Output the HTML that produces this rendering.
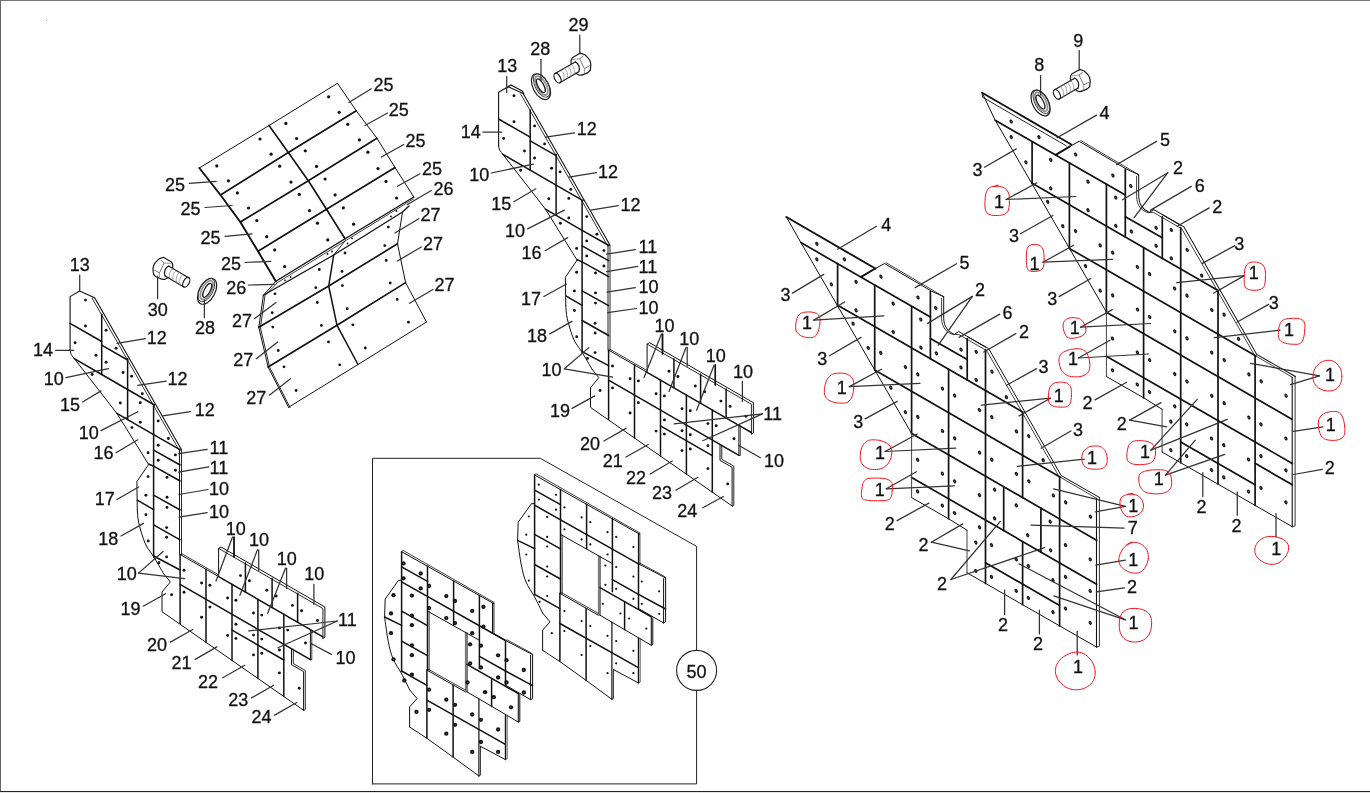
<!DOCTYPE html>
<html><head><meta charset="utf-8"><title>Parts diagram</title>
<style>
html,body{margin:0;padding:0;background:#fff;}
body{width:1370px;height:793px;overflow:hidden;position:relative;font-family:"Liberation Sans",sans-serif;}
#frame{position:absolute;left:0;top:0;width:1370px;height:793px;box-sizing:border-box;border-top:1px solid #777;border-left:1px solid #666;}
#bl{position:absolute;left:0;top:791px;width:1370px;height:1px;background:#222;}
#bg{position:absolute;left:0;top:792px;width:1370px;height:1px;background:#e6e6e6;}
svg{position:absolute;left:0;top:0;}
svg text{font-family:"Liberation Sans",sans-serif;filter:grayscale(1);}
</style></head><body>
<div id="frame"></div><div id="bl"></div><div id="bg"></div>
<svg width="1370" height="793" viewBox="0 0 1370 793" stroke-linecap="round">
<!-- part_panel -->
<polyline points="199.3,168 269,125.5 337.5,83.3" fill="none" stroke="#111" stroke-width="1.0" stroke-linejoin="round"/>
<polyline points="220.5,195 288.3,152.5 356.3,110.8" fill="none" stroke="#111" stroke-width="1.6" stroke-linejoin="round"/>
<polyline points="240.3,222 308.3,180.8 377,138.3" fill="none" stroke="#111" stroke-width="1.6" stroke-linejoin="round"/>
<polyline points="258,251.3 326.5,209.3 395,167.5" fill="none" stroke="#111" stroke-width="1.6" stroke-linejoin="round"/>
<polyline points="275.8,281.3 345,238.8 413.8,197" fill="none" stroke="#111" stroke-width="1.3" stroke-linejoin="round"/>
<line x1="276.7" y1="283" x2="413.3" y2="199" stroke="#111" stroke-width="0.8"/>
<polyline points="199.3,168 220.5,195 240.3,222 258,251.3 275.8,281.3" fill="none" stroke="#111" stroke-width="1.9" stroke-linejoin="round"/>
<polyline points="269,125.5 288.3,152.5 308.3,180.8 326.5,209.3 345,238.8" fill="none" stroke="#111" stroke-width="1.6" stroke-linejoin="round"/>
<polyline points="337.5,83.3 356.3,110.8 377,138.3 395,167.5 413.8,197" fill="none" stroke="#111" stroke-width="1.0" stroke-linejoin="round"/>
<circle cx="216.8" cy="165.9" r="1.6" fill="#111"/>
<circle cx="228.4" cy="180.8" r="1.6" fill="#111"/>
<circle cx="260" cy="139" r="1.6" fill="#111"/>
<circle cx="271.1" cy="154.2" r="1.6" fill="#111"/>
<circle cx="285.9" cy="123.4" r="1.6" fill="#111"/>
<circle cx="296.6" cy="138.5" r="1.6" fill="#111"/>
<circle cx="328.6" cy="96.8" r="1.6" fill="#111"/>
<circle cx="339.2" cy="112.3" r="1.6" fill="#111"/>
<circle cx="237.4" cy="192.9" r="1.6" fill="#111"/>
<circle cx="248.5" cy="208" r="1.6" fill="#111"/>
<circle cx="279.7" cy="166.2" r="1.6" fill="#111"/>
<circle cx="291" cy="182.1" r="1.6" fill="#111"/>
<circle cx="305.3" cy="150.8" r="1.6" fill="#111"/>
<circle cx="316.5" cy="166.4" r="1.6" fill="#111"/>
<circle cx="347.8" cy="124.3" r="1.6" fill="#111"/>
<circle cx="359.4" cy="139.9" r="1.6" fill="#111"/>
<circle cx="256.8" cy="220.6" r="1.6" fill="#111"/>
<circle cx="266.7" cy="236.7" r="1.6" fill="#111"/>
<circle cx="299.3" cy="194.4" r="1.6" fill="#111"/>
<circle cx="309.5" cy="210.6" r="1.6" fill="#111"/>
<circle cx="325.1" cy="179" r="1.6" fill="#111"/>
<circle cx="335.1" cy="194.9" r="1.6" fill="#111"/>
<circle cx="367.9" cy="152.2" r="1.6" fill="#111"/>
<circle cx="378" cy="168.6" r="1.6" fill="#111"/>
<circle cx="274.7" cy="249.9" r="1.6" fill="#111"/>
<circle cx="284.6" cy="266.5" r="1.6" fill="#111"/>
<circle cx="317.5" cy="223.2" r="1.6" fill="#111"/>
<circle cx="327.8" cy="239.9" r="1.6" fill="#111"/>
<circle cx="343.3" cy="207.8" r="1.6" fill="#111"/>
<circle cx="353.6" cy="224.2" r="1.6" fill="#111"/>
<circle cx="386" cy="181.4" r="1.6" fill="#111"/>
<circle cx="396.6" cy="198" r="1.6" fill="#111"/>
<polyline points="263.4,295.2 333.7,255 402.5,212 409,206" fill="none" stroke="#111" stroke-width="1.3" stroke-linejoin="round"/>
<polyline points="258.8,327.3 328.7,286 397.5,243.8" fill="none" stroke="#111" stroke-width="1.6" stroke-linejoin="round"/>
<polyline points="268.1,367 337,325.3 405.6,282.6" fill="none" stroke="#111" stroke-width="1.6" stroke-linejoin="round"/>
<polyline points="288.5,407.3 358,364.5 426.5,322" fill="none" stroke="#111" stroke-width="1.0" stroke-linejoin="round"/>
<polyline points="263.4,295.2 258.8,327.3 268.1,367 288.5,407.3" fill="none" stroke="#111" stroke-width="1.0" stroke-linejoin="round"/>
<polyline points="265,295.6 260.4,327.7 269.7,367.4 290.1,407.7" fill="none" stroke="#111" stroke-width="0.9" stroke-linejoin="round"/>
<polyline points="333.7,255 328.7,286 337,325.3 358,364.5" fill="none" stroke="#111" stroke-width="1.5" stroke-linejoin="round"/>
<polyline points="402.5,212 397.5,243.8 405.6,282.6 426.5,322" fill="none" stroke="#111" stroke-width="1.0" stroke-linejoin="round"/>
<line x1="263.4" y1="295.2" x2="275.8" y2="281.3" stroke="#111" stroke-width="1.0"/>
<line x1="265.5" y1="295" x2="277" y2="283.2" stroke="#111" stroke-width="0.8"/>
<line x1="333.7" y1="255" x2="345" y2="241" stroke="#111" stroke-width="0.9"/>
<circle cx="275" cy="293.8" r="1.4" fill="#111"/>
<circle cx="272.2" cy="312.7" r="1.4" fill="#111"/>
<circle cx="319.3" cy="269.5" r="1.4" fill="#111"/>
<circle cx="315.8" cy="287.7" r="1.4" fill="#111"/>
<circle cx="345" cy="253" r="1.4" fill="#111"/>
<circle cx="342" cy="271.4" r="1.4" fill="#111"/>
<circle cx="388.3" cy="227.1" r="1.4" fill="#111"/>
<circle cx="384.8" cy="245.6" r="1.4" fill="#111"/>
<circle cx="272.8" cy="327.1" r="1.4" fill="#111"/>
<circle cx="278.2" cy="350.5" r="1.4" fill="#111"/>
<circle cx="317.3" cy="302.5" r="1.4" fill="#111"/>
<circle cx="321.4" cy="325.4" r="1.4" fill="#111"/>
<circle cx="342.4" cy="285.6" r="1.4" fill="#111"/>
<circle cx="347.2" cy="308.7" r="1.4" fill="#111"/>
<circle cx="386.2" cy="260.4" r="1.4" fill="#111"/>
<circle cx="390.2" cy="283" r="1.4" fill="#111"/>
<circle cx="284" cy="366.8" r="1.4" fill="#111"/>
<circle cx="296.1" cy="390.5" r="1.4" fill="#111"/>
<circle cx="328.5" cy="341.9" r="1.4" fill="#111"/>
<circle cx="339.7" cy="364.8" r="1.4" fill="#111"/>
<circle cx="352.9" cy="324.8" r="1.4" fill="#111"/>
<circle cx="365.3" cy="348" r="1.4" fill="#111"/>
<circle cx="397.2" cy="299.4" r="1.4" fill="#111"/>
<circle cx="408.4" cy="322.2" r="1.4" fill="#111"/>
<circle cx="285" cy="280.3" r="0.9" fill="#111"/>
<circle cx="290.5" cy="277" r="0.9" fill="#111"/>
<circle cx="327.5" cy="254" r="0.9" fill="#111"/>
<circle cx="332" cy="251.5" r="0.9" fill="#111"/>
<circle cx="352" cy="238.3" r="0.9" fill="#111"/>
<circle cx="347.5" cy="243.5" r="0.9" fill="#111"/>
<circle cx="396.5" cy="211" r="0.9" fill="#111"/>
<circle cx="391" cy="216.5" r="0.9" fill="#111"/>
<!-- part_left -->
<polyline points="70.1,350.5 70.1,296.6 79.6,291 94.6,297.7 181.4,449.4" fill="none" stroke="#111" stroke-width="1.1" stroke-linejoin="round"/>
<line x1="92.1" y1="298.2" x2="179.4" y2="450.6" stroke="#111" stroke-width="0.85"/>
<path d="M70.1 350C70.3 350.8 70.5 353.1 71.2 354.5C71.9 355.9 73.8 357.9 74.3 358.6" fill="none" stroke="#111" stroke-width="1.0"/>
<polyline points="74.3,358.6 116.9,413.4 148.6,464.4 136.9,481.6 137.3,510" fill="none" stroke="#111" stroke-width="1.0" stroke-linejoin="round"/>
<path d="M137.3 510C137.6 512.2 137.5 517.4 138.8 523C140.1 528.6 142.8 538 145.2 543.5C147.6 549 150.1 551 153.2 556C156.3 561 161.9 570.7 163.6 573.6" fill="none" stroke="#111" stroke-width="1.0"/>
<polyline points="163.6,573.6 170.3,582 162,592 162,611.7 303.8,710.4" fill="none" stroke="#111" stroke-width="1.0" stroke-linejoin="round"/>
<line x1="70.1" y1="323.3" x2="101.7" y2="341.5" stroke="#111" stroke-width="1.5"/>
<line x1="101.7" y1="345.2" x2="127.6" y2="360" stroke="#111" stroke-width="1.5"/>
<polyline points="74.3,358.6 101.7,374.5 127.6,389.5 154.5,405" fill="none" stroke="#111" stroke-width="1.5" stroke-linejoin="round"/>
<polyline points="116.9,413.4 153.6,434.6 180.4,449.8" fill="none" stroke="#111" stroke-width="1.5" stroke-linejoin="round"/>
<line x1="153.6" y1="450.2" x2="180.1" y2="465" stroke="#111" stroke-width="1.5"/>
<polyline points="148.6,464 153.6,466.2 180.1,481" fill="none" stroke="#111" stroke-width="1.5" stroke-linejoin="round"/>
<line x1="153.6" y1="495.2" x2="180.1" y2="510" stroke="#111" stroke-width="1.5"/>
<line x1="137.3" y1="500.2" x2="153.6" y2="509.6" stroke="#111" stroke-width="1.5"/>
<line x1="153.6" y1="524.8" x2="180.1" y2="539.8" stroke="#111" stroke-width="1.5"/>
<line x1="153.6" y1="556" x2="180.1" y2="570" stroke="#111" stroke-width="1.5"/>
<line x1="101.7" y1="314.3" x2="101.7" y2="374.5" stroke="#111" stroke-width="1.5"/>
<line x1="127.6" y1="358.6" x2="127.6" y2="419.6" stroke="#111" stroke-width="1.5"/>
<line x1="153.6" y1="404.7" x2="153.6" y2="556.9" stroke="#111" stroke-width="1.5"/>
<line x1="179.5" y1="449.4" x2="179.5" y2="554.4" stroke="#111" stroke-width="0.95"/>
<line x1="180.1" y1="554.4" x2="180.1" y2="623.6" stroke="#111" stroke-width="1.5"/>
<line x1="181.5" y1="450" x2="181.5" y2="555.2" stroke="#111" stroke-width="0.9"/>
<line x1="180.1" y1="554.4" x2="218.6" y2="576.6" stroke="#111" stroke-width="1.0"/>
<line x1="181.6" y1="553.6" x2="218.6" y2="574.9" stroke="#111" stroke-width="0.8"/>
<polyline points="218.6,576.6 310.4,629.6 322.9,636.8" fill="none" stroke="#111" stroke-width="1.5" stroke-linejoin="round"/>
<polyline points="218.6,576.6 218.6,548.4 221,547 324.9,607 324.9,637.3 322.9,638.3" fill="none" stroke="#111" stroke-width="1.0" stroke-linejoin="round"/>
<polyline points="218.6,548.4 322.9,608.5 322.9,638.3" fill="none" stroke="#111" stroke-width="0.9" stroke-linejoin="round"/>
<line x1="245.4" y1="563.1" x2="245.4" y2="592.1" stroke="#111" stroke-width="1.5"/>
<line x1="272.1" y1="578.5" x2="272.1" y2="607.5" stroke="#111" stroke-width="1.5"/>
<line x1="297.6" y1="593.2" x2="297.6" y2="622.2" stroke="#111" stroke-width="1.5"/>
<line x1="206" y1="569.3" x2="206" y2="642.3" stroke="#111" stroke-width="1.5"/>
<line x1="232" y1="584.3" x2="232" y2="660.4" stroke="#111" stroke-width="1.5"/>
<line x1="257.9" y1="599.3" x2="257.9" y2="678.4" stroke="#111" stroke-width="1.5"/>
<line x1="283.8" y1="614.2" x2="283.8" y2="696.5" stroke="#111" stroke-width="1.5"/>
<polyline points="310.4,629.6 310.4,659.6 309,658.8" fill="none" stroke="#111" stroke-width="1.0" stroke-linejoin="round"/>
<polyline points="311.8,630.4 311.8,659.8 310.4,659.6" fill="none" stroke="#111" stroke-width="0.8" stroke-linejoin="round"/>
<line x1="180.1" y1="584.4" x2="310.4" y2="659.6" stroke="#111" stroke-width="1.5"/>
<line x1="232" y1="630.1" x2="283.8" y2="660" stroke="#111" stroke-width="1.5"/>
<polyline points="291.5,648.7 291.5,664.7 303.6,671.6 303.6,710.4" fill="none" stroke="#111" stroke-width="1.0" stroke-linejoin="round"/>
<polyline points="293.3,649.7 293.3,663.6 305.3,670.4 305.3,709.4 303.8,710.4" fill="none" stroke="#111" stroke-width="0.9" stroke-linejoin="round"/>
<circle cx="85.5" cy="300.1" r="1.45" fill="#111"/>
<circle cx="85.5" cy="326" r="1.45" fill="#111"/>
<circle cx="75.1" cy="342.7" r="1.45" fill="#111"/>
<circle cx="96" cy="355.3" r="1.45" fill="#111"/>
<circle cx="106.1" cy="330.2" r="1.45" fill="#111"/>
<circle cx="116.1" cy="348.2" r="1.45" fill="#111"/>
<circle cx="106.1" cy="362.3" r="1.45" fill="#111"/>
<circle cx="123.1" cy="372.5" r="1.45" fill="#111"/>
<circle cx="131.6" cy="376.2" r="1.45" fill="#111"/>
<circle cx="142.3" cy="393.7" r="1.45" fill="#111"/>
<circle cx="92.2" cy="374.5" r="1.45" fill="#111"/>
<circle cx="120.3" cy="403" r="1.45" fill="#111"/>
<circle cx="140.3" cy="402.7" r="1.45" fill="#111"/>
<circle cx="140.3" cy="422.3" r="1.45" fill="#111"/>
<circle cx="131.9" cy="427.6" r="1.45" fill="#111"/>
<circle cx="158.2" cy="420.9" r="1.45" fill="#111"/>
<circle cx="168.4" cy="438.5" r="1.45" fill="#111"/>
<circle cx="158.2" cy="445.2" r="1.45" fill="#111"/>
<circle cx="175.4" cy="454.9" r="1.45" fill="#111"/>
<circle cx="158.2" cy="460.2" r="1.45" fill="#111"/>
<circle cx="175.4" cy="470.3" r="1.45" fill="#111"/>
<circle cx="148.1" cy="452.7" r="1.45" fill="#111"/>
<circle cx="167" cy="477.3" r="1.45" fill="#111"/>
<circle cx="148.1" cy="476.6" r="1.45" fill="#111"/>
<circle cx="145.9" cy="495.2" r="1.45" fill="#111"/>
<circle cx="167" cy="497.2" r="1.45" fill="#111"/>
<circle cx="167" cy="507.4" r="1.45" fill="#111"/>
<circle cx="145.9" cy="514.8" r="1.45" fill="#111"/>
<circle cx="166.6" cy="527.6" r="1.45" fill="#111"/>
<circle cx="166.6" cy="537.3" r="1.45" fill="#111"/>
<circle cx="148.2" cy="541" r="1.45" fill="#111"/>
<circle cx="166.6" cy="556.9" r="1.45" fill="#111"/>
<circle cx="158.9" cy="562.7" r="1.45" fill="#111"/>
<circle cx="171.6" cy="594.8" r="1.45" fill="#111"/>
<circle cx="184" cy="570.3" r="1.45" fill="#111"/>
<circle cx="201.6" cy="583" r="1.45" fill="#111"/>
<circle cx="184" cy="592.2" r="1.45" fill="#111"/>
<circle cx="201.6" cy="617.3" r="1.45" fill="#111"/>
<circle cx="209.9" cy="585.2" r="1.45" fill="#111"/>
<circle cx="227.6" cy="598" r="1.45" fill="#111"/>
<circle cx="209.9" cy="607.1" r="1.45" fill="#111"/>
<circle cx="227.6" cy="635.4" r="1.45" fill="#111"/>
<circle cx="235.9" cy="600.2" r="1.45" fill="#111"/>
<circle cx="253.5" cy="613" r="1.45" fill="#111"/>
<circle cx="235.9" cy="624.2" r="1.45" fill="#111"/>
<circle cx="253.5" cy="635.1" r="1.45" fill="#111"/>
<circle cx="235.9" cy="638.4" r="1.45" fill="#111"/>
<circle cx="253.5" cy="654.9" r="1.45" fill="#111"/>
<circle cx="261.8" cy="615.1" r="1.45" fill="#111"/>
<circle cx="279.4" cy="627.9" r="1.45" fill="#111"/>
<circle cx="261.8" cy="639.1" r="1.45" fill="#111"/>
<circle cx="279.4" cy="650" r="1.45" fill="#111"/>
<circle cx="261.8" cy="653.3" r="1.45" fill="#111"/>
<circle cx="279.4" cy="672.9" r="1.45" fill="#111"/>
<circle cx="287.7" cy="630.1" r="1.45" fill="#111"/>
<circle cx="305.5" cy="643" r="1.45" fill="#111"/>
<circle cx="299.2" cy="688.2" r="1.45" fill="#111"/>
<circle cx="240.5" cy="575.6" r="1.45" fill="#111"/>
<circle cx="249.4" cy="580.8" r="1.45" fill="#111"/>
<circle cx="266.8" cy="590.3" r="1.45" fill="#111"/>
<circle cx="276.2" cy="596" r="1.45" fill="#111"/>
<circle cx="292.4" cy="605.4" r="1.45" fill="#111"/>
<circle cx="301.6" cy="610.7" r="1.45" fill="#111"/>
<circle cx="317.5" cy="620.5" r="1.45" fill="#111"/>
<polyline points="498.6,146.2 498.6,92.3 508.1,86.7 523.1,93.4 609.9,245.1" fill="none" stroke="#111" stroke-width="1.1" stroke-linejoin="round"/>
<line x1="520.6" y1="93.9" x2="607.9" y2="246.3" stroke="#111" stroke-width="0.85"/>
<path d="M498.6 145.7C498.8 146.4 499 148.8 499.7 150.2C500.4 151.6 502.3 153.6 502.8 154.3" fill="none" stroke="#111" stroke-width="1.0"/>
<polyline points="502.8,154.3 545.4,209.1 577.1,260.1 565.4,277.3 565.8,305.7" fill="none" stroke="#111" stroke-width="1.0" stroke-linejoin="round"/>
<path d="M565.8 305.7C566 307.9 566 313.1 567.3 318.7C568.6 324.3 571.3 333.7 573.7 339.2C576.1 344.7 578.6 346.7 581.7 351.7C584.8 356.7 590.4 366.4 592.1 369.3" fill="none" stroke="#111" stroke-width="1.0"/>
<polyline points="592.1,369.3 598.8,377.7 590.5,387.7 590.5,407.4 732.3,506.1" fill="none" stroke="#111" stroke-width="1.0" stroke-linejoin="round"/>
<line x1="498.6" y1="119" x2="530.2" y2="137.2" stroke="#111" stroke-width="1.5"/>
<line x1="530.2" y1="140.9" x2="556.1" y2="155.7" stroke="#111" stroke-width="1.5"/>
<polyline points="502.8,154.3 530.2,170.2 556.1,185.2 583,200.7" fill="none" stroke="#111" stroke-width="1.5" stroke-linejoin="round"/>
<polyline points="545.4,209.1 582.1,230.3 608.9,245.5" fill="none" stroke="#111" stroke-width="1.5" stroke-linejoin="round"/>
<line x1="582.1" y1="245.9" x2="608.6" y2="260.7" stroke="#111" stroke-width="1.5"/>
<polyline points="577.1,259.7 582.1,261.9 608.6,276.7" fill="none" stroke="#111" stroke-width="1.5" stroke-linejoin="round"/>
<line x1="582.1" y1="290.9" x2="608.6" y2="305.7" stroke="#111" stroke-width="1.5"/>
<line x1="565.8" y1="295.9" x2="582.1" y2="305.3" stroke="#111" stroke-width="1.5"/>
<line x1="582.1" y1="320.5" x2="608.6" y2="335.5" stroke="#111" stroke-width="1.5"/>
<line x1="582.1" y1="351.7" x2="608.6" y2="365.7" stroke="#111" stroke-width="1.5"/>
<line x1="530.2" y1="110" x2="530.2" y2="170.2" stroke="#111" stroke-width="1.5"/>
<line x1="556.1" y1="154.3" x2="556.1" y2="215.3" stroke="#111" stroke-width="1.5"/>
<line x1="582.1" y1="200.4" x2="582.1" y2="352.6" stroke="#111" stroke-width="1.5"/>
<line x1="608" y1="245.1" x2="608" y2="350.1" stroke="#111" stroke-width="0.95"/>
<line x1="608.6" y1="350.1" x2="608.6" y2="419.3" stroke="#111" stroke-width="1.5"/>
<line x1="610" y1="245.7" x2="610" y2="350.9" stroke="#111" stroke-width="0.9"/>
<line x1="608.6" y1="350.1" x2="647.1" y2="372.3" stroke="#111" stroke-width="1.0"/>
<line x1="610.1" y1="349.3" x2="647.1" y2="370.6" stroke="#111" stroke-width="0.8"/>
<polyline points="647.1,372.3 738.9,425.3 751.4,432.5" fill="none" stroke="#111" stroke-width="1.5" stroke-linejoin="round"/>
<polyline points="647.1,372.3 647.1,344.1 649.5,342.7 753.4,402.7 753.4,433 751.4,434" fill="none" stroke="#111" stroke-width="1.0" stroke-linejoin="round"/>
<polyline points="647.1,344.1 751.4,404.2 751.4,434" fill="none" stroke="#111" stroke-width="0.9" stroke-linejoin="round"/>
<line x1="673.9" y1="358.8" x2="673.9" y2="387.8" stroke="#111" stroke-width="1.5"/>
<line x1="700.6" y1="374.2" x2="700.6" y2="403.2" stroke="#111" stroke-width="1.5"/>
<line x1="726.1" y1="388.9" x2="726.1" y2="417.9" stroke="#111" stroke-width="1.5"/>
<line x1="634.5" y1="365" x2="634.5" y2="438" stroke="#111" stroke-width="1.5"/>
<line x1="660.5" y1="380" x2="660.5" y2="456.1" stroke="#111" stroke-width="1.5"/>
<line x1="686.4" y1="395" x2="686.4" y2="474.1" stroke="#111" stroke-width="1.5"/>
<line x1="712.3" y1="409.9" x2="712.3" y2="492.2" stroke="#111" stroke-width="1.5"/>
<polyline points="738.9,425.3 738.9,455.3 737.5,454.5" fill="none" stroke="#111" stroke-width="1.0" stroke-linejoin="round"/>
<polyline points="740.3,426.1 740.3,455.5 738.9,455.3" fill="none" stroke="#111" stroke-width="0.8" stroke-linejoin="round"/>
<line x1="608.6" y1="380.1" x2="738.9" y2="455.3" stroke="#111" stroke-width="1.5"/>
<line x1="660.5" y1="425.8" x2="712.3" y2="455.7" stroke="#111" stroke-width="1.5"/>
<polyline points="720,444.4 720,460.4 732.1,467.3 732.1,506.1" fill="none" stroke="#111" stroke-width="1.0" stroke-linejoin="round"/>
<polyline points="721.8,445.4 721.8,459.3 733.8,466.1 733.8,505.1 732.3,506.1" fill="none" stroke="#111" stroke-width="0.9" stroke-linejoin="round"/>
<circle cx="514" cy="95.8" r="1.45" fill="#111"/>
<circle cx="514" cy="121.7" r="1.45" fill="#111"/>
<circle cx="503.6" cy="138.4" r="1.45" fill="#111"/>
<circle cx="524.5" cy="151" r="1.45" fill="#111"/>
<circle cx="534.6" cy="125.9" r="1.45" fill="#111"/>
<circle cx="544.6" cy="143.9" r="1.45" fill="#111"/>
<circle cx="534.6" cy="158" r="1.45" fill="#111"/>
<circle cx="551.6" cy="168.2" r="1.45" fill="#111"/>
<circle cx="560.1" cy="171.9" r="1.45" fill="#111"/>
<circle cx="570.8" cy="189.4" r="1.45" fill="#111"/>
<circle cx="520.7" cy="170.2" r="1.45" fill="#111"/>
<circle cx="548.8" cy="198.7" r="1.45" fill="#111"/>
<circle cx="568.8" cy="198.4" r="1.45" fill="#111"/>
<circle cx="568.8" cy="218" r="1.45" fill="#111"/>
<circle cx="560.4" cy="223.3" r="1.45" fill="#111"/>
<circle cx="586.7" cy="216.6" r="1.45" fill="#111"/>
<circle cx="596.9" cy="234.2" r="1.45" fill="#111"/>
<circle cx="586.7" cy="240.9" r="1.45" fill="#111"/>
<circle cx="603.9" cy="250.6" r="1.45" fill="#111"/>
<circle cx="586.7" cy="255.9" r="1.45" fill="#111"/>
<circle cx="603.9" cy="266" r="1.45" fill="#111"/>
<circle cx="576.6" cy="248.4" r="1.45" fill="#111"/>
<circle cx="595.5" cy="273" r="1.45" fill="#111"/>
<circle cx="576.6" cy="272.3" r="1.45" fill="#111"/>
<circle cx="574.4" cy="290.9" r="1.45" fill="#111"/>
<circle cx="595.5" cy="292.9" r="1.45" fill="#111"/>
<circle cx="595.5" cy="303.1" r="1.45" fill="#111"/>
<circle cx="574.4" cy="310.5" r="1.45" fill="#111"/>
<circle cx="595.1" cy="323.3" r="1.45" fill="#111"/>
<circle cx="595.1" cy="333" r="1.45" fill="#111"/>
<circle cx="576.7" cy="336.7" r="1.45" fill="#111"/>
<circle cx="595.1" cy="352.6" r="1.45" fill="#111"/>
<circle cx="587.4" cy="358.4" r="1.45" fill="#111"/>
<circle cx="600.1" cy="390.5" r="1.45" fill="#111"/>
<circle cx="612.5" cy="366" r="1.45" fill="#111"/>
<circle cx="630.1" cy="378.7" r="1.45" fill="#111"/>
<circle cx="612.5" cy="387.9" r="1.45" fill="#111"/>
<circle cx="630.1" cy="413" r="1.45" fill="#111"/>
<circle cx="638.4" cy="380.9" r="1.45" fill="#111"/>
<circle cx="656.1" cy="393.7" r="1.45" fill="#111"/>
<circle cx="638.4" cy="402.8" r="1.45" fill="#111"/>
<circle cx="656.1" cy="431.1" r="1.45" fill="#111"/>
<circle cx="664.4" cy="395.9" r="1.45" fill="#111"/>
<circle cx="682" cy="408.7" r="1.45" fill="#111"/>
<circle cx="664.4" cy="419.9" r="1.45" fill="#111"/>
<circle cx="682" cy="430.8" r="1.45" fill="#111"/>
<circle cx="664.4" cy="434.1" r="1.45" fill="#111"/>
<circle cx="682" cy="450.6" r="1.45" fill="#111"/>
<circle cx="690.3" cy="410.8" r="1.45" fill="#111"/>
<circle cx="707.9" cy="423.6" r="1.45" fill="#111"/>
<circle cx="690.3" cy="434.8" r="1.45" fill="#111"/>
<circle cx="707.9" cy="445.7" r="1.45" fill="#111"/>
<circle cx="690.3" cy="449" r="1.45" fill="#111"/>
<circle cx="707.9" cy="468.6" r="1.45" fill="#111"/>
<circle cx="716.2" cy="425.8" r="1.45" fill="#111"/>
<circle cx="734" cy="438.7" r="1.45" fill="#111"/>
<circle cx="727.7" cy="483.9" r="1.45" fill="#111"/>
<circle cx="669" cy="371.3" r="1.45" fill="#111"/>
<circle cx="677.9" cy="376.5" r="1.45" fill="#111"/>
<circle cx="695.3" cy="386" r="1.45" fill="#111"/>
<circle cx="704.7" cy="391.7" r="1.45" fill="#111"/>
<circle cx="720.9" cy="401.1" r="1.45" fill="#111"/>
<circle cx="730.1" cy="406.4" r="1.45" fill="#111"/>
<circle cx="746" cy="416.2" r="1.45" fill="#111"/>
<polyline points="507.9,86.8 511,85 522.2,91 523.8,94" fill="none" stroke="#111" stroke-width="1.3" stroke-linejoin="round"/>
<!-- part_right -->
<line x1="786.4" y1="217" x2="875.3" y2="268.5" stroke="#111" stroke-width="1.9"/>
<polyline points="786.4,217 800.9,242.6 911.6,433.5" fill="none" stroke="#111" stroke-width="1.0" stroke-linejoin="round"/>
<line x1="800.9" y1="242.6" x2="930.4" y2="317.1" stroke="#111" stroke-width="1.7"/>
<line x1="861.1" y1="276.9" x2="875.3" y2="268.5" stroke="#111" stroke-width="2.0"/>
<polyline points="875.3,268.5 884.5,263.5 931.2,291 943.7,296.7" fill="none" stroke="#111" stroke-width="1.0" stroke-linejoin="round"/>
<line x1="886.2" y1="262.8" x2="943.7" y2="296.7" stroke="#111" stroke-width="0.8"/>
<path d="M943.7 296.7L943.7 318.5C943.9 326 947.5 331.5 954.4 334.4L958.6 331.5L988.7 348.6L1061.2 475.6L1099.7 497.6" fill="none" stroke="#111" stroke-width="1.0"/>
<path d="M941.6 298.4L941.6 318.5C941.8 327.5 946.5 332.8 953.5 334.6L958.6 334.4L986.6 350.6L1059.4 477.2" fill="none" stroke="#111" stroke-width="0.8"/>
<line x1="1061" y1="477.6" x2="1097" y2="498.6" stroke="#111" stroke-width="0.8"/>
<line x1="1096.5" y1="498.4" x2="1096.5" y2="647.1" stroke="#111" stroke-width="1.1"/>
<polyline points="1099.4,497.6 1099.4,646.3 1096.5,647.1" fill="none" stroke="#111" stroke-width="0.85" stroke-linejoin="round"/>
<polyline points="911.6,497.6 948.6,518.8 967,530.2" fill="none" stroke="#111" stroke-width="1.0" stroke-linejoin="round"/>
<line x1="967" y1="530.2" x2="967" y2="572.8" stroke="#555" stroke-width="1.1"/>
<line x1="967" y1="572.8" x2="1096.6" y2="647.1" stroke="#111" stroke-width="1.0"/>
<line x1="837.7" y1="305.3" x2="1022.6" y2="412" stroke="#111" stroke-width="1.7"/>
<line x1="874.7" y1="370.1" x2="1060.4" y2="477.2" stroke="#111" stroke-width="1.7"/>
<line x1="911.7" y1="433.6" x2="1096.6" y2="540.3" stroke="#111" stroke-width="1.7"/>
<line x1="911.6" y1="477.4" x2="1096.6" y2="584.2" stroke="#111" stroke-width="1.7"/>
<line x1="985.5" y1="562.7" x2="1059.6" y2="605.4" stroke="#111" stroke-width="1.7"/>
<line x1="930.4" y1="338.6" x2="967.2" y2="359.6" stroke="#111" stroke-width="1.7"/>
<line x1="967.8" y1="336.9" x2="985.5" y2="347.2" stroke="#111" stroke-width="1.0"/>
<line x1="837.6" y1="263.7" x2="837.6" y2="305.5" stroke="#111" stroke-width="1.7"/>
<line x1="874.7" y1="285" x2="874.7" y2="369.7" stroke="#111" stroke-width="1.7"/>
<line x1="911.6" y1="306.3" x2="911.6" y2="433.6" stroke="#111" stroke-width="1.7"/>
<line x1="911.6" y1="433.6" x2="911.6" y2="497.6" stroke="#444" stroke-width="1.0"/>
<line x1="930.4" y1="291.5" x2="930.4" y2="358.8" stroke="#111" stroke-width="1.7"/>
<line x1="967.2" y1="338.6" x2="967.2" y2="380" stroke="#111" stroke-width="1.7"/>
<line x1="948.6" y1="369.3" x2="948.6" y2="518.8" stroke="#111" stroke-width="1.7"/>
<line x1="985.5" y1="349.5" x2="985.5" y2="583.4" stroke="#111" stroke-width="1.7"/>
<line x1="1059.6" y1="477" x2="1059.6" y2="625.9" stroke="#111" stroke-width="1.7"/>
<line x1="1022.6" y1="412" x2="1022.6" y2="497.6" stroke="#111" stroke-width="1.7"/>
<line x1="1022.6" y1="541.5" x2="1022.6" y2="604.7" stroke="#111" stroke-width="1.7"/>
<line x1="1003.7" y1="486.7" x2="1003.7" y2="530.6" stroke="#111" stroke-width="1.7"/>
<line x1="1040.9" y1="508.1" x2="1040.9" y2="552" stroke="#111" stroke-width="1.7"/>
<ellipse cx="816.8" cy="243.8" rx="1.55" ry="2.15" fill="#1a1a1a" transform="rotate(-28 816.8 243.8)"/><ellipse cx="816.8" cy="243.8" rx="0.35" ry="0.7" fill="#777" transform="rotate(-28 816.8 243.8)"/>
<ellipse cx="844.4" cy="259.3" rx="1.55" ry="2.15" fill="#1a1a1a" transform="rotate(-28 844.4 259.3)"/><ellipse cx="844.4" cy="259.3" rx="0.35" ry="0.7" fill="#777" transform="rotate(-28 844.4 259.3)"/>
<ellipse cx="816.8" cy="259.3" rx="1.55" ry="2.15" fill="#1a1a1a" transform="rotate(-28 816.8 259.3)"/><ellipse cx="816.8" cy="259.3" rx="0.35" ry="0.7" fill="#777" transform="rotate(-28 816.8 259.3)"/>
<ellipse cx="831.4" cy="284.4" rx="1.55" ry="2.15" fill="#1a1a1a" transform="rotate(-28 831.4 284.4)"/><ellipse cx="831.4" cy="284.4" rx="0.35" ry="0.7" fill="#777" transform="rotate(-28 831.4 284.4)"/>
<ellipse cx="856.1" cy="281.9" rx="1.55" ry="2.15" fill="#1a1a1a" transform="rotate(-28 856.1 281.9)"/><ellipse cx="856.1" cy="281.9" rx="0.35" ry="0.7" fill="#777" transform="rotate(-28 856.1 281.9)"/>
<ellipse cx="856.1" cy="310.4" rx="1.55" ry="2.15" fill="#1a1a1a" transform="rotate(-28 856.1 310.4)"/><ellipse cx="856.1" cy="310.4" rx="0.35" ry="0.7" fill="#777" transform="rotate(-28 856.1 310.4)"/>
<ellipse cx="880.9" cy="276.6" rx="1.55" ry="2.15" fill="#1a1a1a" transform="rotate(-28 880.9 276.6)"/><ellipse cx="880.9" cy="276.6" rx="0.35" ry="0.7" fill="#777" transform="rotate(-28 880.9 276.6)"/>
<ellipse cx="918" cy="297.5" rx="1.55" ry="2.15" fill="#1a1a1a" transform="rotate(-28 918 297.5)"/><ellipse cx="918" cy="297.5" rx="0.35" ry="0.7" fill="#777" transform="rotate(-28 918 297.5)"/>
<ellipse cx="893.2" cy="303.7" rx="1.55" ry="2.15" fill="#1a1a1a" transform="rotate(-28 893.2 303.7)"/><ellipse cx="893.2" cy="303.7" rx="0.35" ry="0.7" fill="#777" transform="rotate(-28 893.2 303.7)"/>
<ellipse cx="893.2" cy="332.1" rx="1.55" ry="2.15" fill="#1a1a1a" transform="rotate(-28 893.2 332.1)"/><ellipse cx="893.2" cy="332.1" rx="0.35" ry="0.7" fill="#777" transform="rotate(-28 893.2 332.1)"/>
<ellipse cx="920.8" cy="319.5" rx="1.55" ry="2.15" fill="#1a1a1a" transform="rotate(-28 920.8 319.5)"/><ellipse cx="920.8" cy="319.5" rx="0.35" ry="0.7" fill="#777" transform="rotate(-28 920.8 319.5)"/>
<ellipse cx="935.8" cy="308" rx="1.55" ry="2.15" fill="#1a1a1a" transform="rotate(-28 935.8 308)"/><ellipse cx="935.8" cy="308" rx="0.35" ry="0.7" fill="#777" transform="rotate(-28 935.8 308)"/>
<ellipse cx="853.1" cy="323.7" rx="1.55" ry="2.15" fill="#1a1a1a" transform="rotate(-28 853.1 323.7)"/><ellipse cx="853.1" cy="323.7" rx="0.35" ry="0.7" fill="#777" transform="rotate(-28 853.1 323.7)"/>
<ellipse cx="920.9" cy="347.6" rx="1.55" ry="2.15" fill="#1a1a1a" transform="rotate(-28 920.9 347.6)"/><ellipse cx="920.9" cy="347.6" rx="0.35" ry="0.7" fill="#777" transform="rotate(-28 920.9 347.6)"/>
<ellipse cx="936.4" cy="353.3" rx="1.55" ry="2.15" fill="#1a1a1a" transform="rotate(-28 936.4 353.3)"/><ellipse cx="936.4" cy="353.3" rx="0.35" ry="0.7" fill="#777" transform="rotate(-28 936.4 353.3)"/>
<ellipse cx="961" cy="349.6" rx="1.55" ry="2.15" fill="#1a1a1a" transform="rotate(-28 961 349.6)"/><ellipse cx="961" cy="349.6" rx="0.35" ry="0.7" fill="#777" transform="rotate(-28 961 349.6)"/>
<ellipse cx="961" cy="367.5" rx="1.55" ry="2.15" fill="#1a1a1a" transform="rotate(-28 961 367.5)"/><ellipse cx="961" cy="367.5" rx="0.35" ry="0.7" fill="#777" transform="rotate(-28 961 367.5)"/>
<ellipse cx="976.2" cy="351.8" rx="1.55" ry="2.15" fill="#1a1a1a" transform="rotate(-28 976.2 351.8)"/><ellipse cx="976.2" cy="351.8" rx="0.35" ry="0.7" fill="#777" transform="rotate(-28 976.2 351.8)"/>
<ellipse cx="976.2" cy="380" rx="1.55" ry="2.15" fill="#1a1a1a" transform="rotate(-28 976.2 380)"/><ellipse cx="976.2" cy="380" rx="0.35" ry="0.7" fill="#777" transform="rotate(-28 976.2 380)"/>
<ellipse cx="992" cy="371.7" rx="1.55" ry="2.15" fill="#1a1a1a" transform="rotate(-28 992 371.7)"/><ellipse cx="992" cy="371.7" rx="0.35" ry="0.7" fill="#777" transform="rotate(-28 992 371.7)"/>
<ellipse cx="1006.4" cy="397.2" rx="1.55" ry="2.15" fill="#1a1a1a" transform="rotate(-28 1006.4 397.2)"/><ellipse cx="1006.4" cy="397.2" rx="0.35" ry="0.7" fill="#777" transform="rotate(-28 1006.4 397.2)"/>
<ellipse cx="868.2" cy="348" rx="1.55" ry="2.15" fill="#1a1a1a" transform="rotate(-28 868.2 348)"/><ellipse cx="868.2" cy="348" rx="0.35" ry="0.7" fill="#777" transform="rotate(-28 868.2 348)"/>
<ellipse cx="880.8" cy="352.9" rx="1.55" ry="2.15" fill="#1a1a1a" transform="rotate(-28 880.8 352.9)"/><ellipse cx="880.8" cy="352.9" rx="0.35" ry="0.7" fill="#777" transform="rotate(-28 880.8 352.9)"/>
<ellipse cx="905.4" cy="367.1" rx="1.55" ry="2.15" fill="#1a1a1a" transform="rotate(-28 905.4 367.1)"/><ellipse cx="905.4" cy="367.1" rx="0.35" ry="0.7" fill="#777" transform="rotate(-28 905.4 367.1)"/>
<ellipse cx="917.8" cy="374.4" rx="1.55" ry="2.15" fill="#1a1a1a" transform="rotate(-28 917.8 374.4)"/><ellipse cx="917.8" cy="374.4" rx="0.35" ry="0.7" fill="#777" transform="rotate(-28 917.8 374.4)"/>
<ellipse cx="942.4" cy="388.6" rx="1.55" ry="2.15" fill="#1a1a1a" transform="rotate(-28 942.4 388.6)"/><ellipse cx="942.4" cy="388.6" rx="0.35" ry="0.7" fill="#777" transform="rotate(-28 942.4 388.6)"/>
<ellipse cx="954.6" cy="395.6" rx="1.55" ry="2.15" fill="#1a1a1a" transform="rotate(-28 954.6 395.6)"/><ellipse cx="954.6" cy="395.6" rx="0.35" ry="0.7" fill="#777" transform="rotate(-28 954.6 395.6)"/>
<ellipse cx="979.4" cy="410" rx="1.55" ry="2.15" fill="#1a1a1a" transform="rotate(-28 979.4 410)"/><ellipse cx="979.4" cy="410" rx="0.35" ry="0.7" fill="#777" transform="rotate(-28 979.4 410)"/>
<ellipse cx="991.8" cy="417.2" rx="1.55" ry="2.15" fill="#1a1a1a" transform="rotate(-28 991.8 417.2)"/><ellipse cx="991.8" cy="417.2" rx="0.35" ry="0.7" fill="#777" transform="rotate(-28 991.8 417.2)"/>
<ellipse cx="1016.5" cy="431.4" rx="1.55" ry="2.15" fill="#1a1a1a" transform="rotate(-28 1016.5 431.4)"/><ellipse cx="1016.5" cy="431.4" rx="0.35" ry="0.7" fill="#777" transform="rotate(-28 1016.5 431.4)"/>
<ellipse cx="1028.7" cy="436.1" rx="1.55" ry="2.15" fill="#1a1a1a" transform="rotate(-28 1028.7 436.1)"/><ellipse cx="1028.7" cy="436.1" rx="0.35" ry="0.7" fill="#777" transform="rotate(-28 1028.7 436.1)"/>
<ellipse cx="1043.2" cy="460.2" rx="1.55" ry="2.15" fill="#1a1a1a" transform="rotate(-28 1043.2 460.2)"/><ellipse cx="1043.2" cy="460.2" rx="0.35" ry="0.7" fill="#777" transform="rotate(-28 1043.2 460.2)"/>
<ellipse cx="890.8" cy="387.7" rx="1.55" ry="2.15" fill="#1a1a1a" transform="rotate(-28 890.8 387.7)"/><ellipse cx="890.8" cy="387.7" rx="0.35" ry="0.7" fill="#777" transform="rotate(-28 890.8 387.7)"/>
<ellipse cx="905.4" cy="412.2" rx="1.55" ry="2.15" fill="#1a1a1a" transform="rotate(-28 905.4 412.2)"/><ellipse cx="905.4" cy="412.2" rx="0.35" ry="0.7" fill="#777" transform="rotate(-28 905.4 412.2)"/>
<ellipse cx="917.8" cy="416.9" rx="1.55" ry="2.15" fill="#1a1a1a" transform="rotate(-28 917.8 416.9)"/><ellipse cx="917.8" cy="416.9" rx="0.35" ry="0.7" fill="#777" transform="rotate(-28 917.8 416.9)"/>
<ellipse cx="942.5" cy="431" rx="1.55" ry="2.15" fill="#1a1a1a" transform="rotate(-28 942.5 431)"/><ellipse cx="942.5" cy="431" rx="0.35" ry="0.7" fill="#777" transform="rotate(-28 942.5 431)"/>
<ellipse cx="954.7" cy="438.4" rx="1.55" ry="2.15" fill="#1a1a1a" transform="rotate(-28 954.7 438.4)"/><ellipse cx="954.7" cy="438.4" rx="0.35" ry="0.7" fill="#777" transform="rotate(-28 954.7 438.4)"/>
<ellipse cx="979.5" cy="452.6" rx="1.55" ry="2.15" fill="#1a1a1a" transform="rotate(-28 979.5 452.6)"/><ellipse cx="979.5" cy="452.6" rx="0.35" ry="0.7" fill="#777" transform="rotate(-28 979.5 452.6)"/>
<ellipse cx="991.8" cy="459.7" rx="1.55" ry="2.15" fill="#1a1a1a" transform="rotate(-28 991.8 459.7)"/><ellipse cx="991.8" cy="459.7" rx="0.35" ry="0.7" fill="#777" transform="rotate(-28 991.8 459.7)"/>
<ellipse cx="1016.4" cy="473.8" rx="1.55" ry="2.15" fill="#1a1a1a" transform="rotate(-28 1016.4 473.8)"/><ellipse cx="1016.4" cy="473.8" rx="0.35" ry="0.7" fill="#777" transform="rotate(-28 1016.4 473.8)"/>
<ellipse cx="1028.8" cy="481.3" rx="1.55" ry="2.15" fill="#1a1a1a" transform="rotate(-28 1028.8 481.3)"/><ellipse cx="1028.8" cy="481.3" rx="0.35" ry="0.7" fill="#777" transform="rotate(-28 1028.8 481.3)"/>
<ellipse cx="1053.4" cy="495.5" rx="1.55" ry="2.15" fill="#1a1a1a" transform="rotate(-28 1053.4 495.5)"/><ellipse cx="1053.4" cy="495.5" rx="0.35" ry="0.7" fill="#777" transform="rotate(-28 1053.4 495.5)"/>
<ellipse cx="1065.7" cy="502.4" rx="1.55" ry="2.15" fill="#1a1a1a" transform="rotate(-28 1065.7 502.4)"/><ellipse cx="1065.7" cy="502.4" rx="0.35" ry="0.7" fill="#777" transform="rotate(-28 1065.7 502.4)"/>
<ellipse cx="1090.4" cy="516.7" rx="1.55" ry="2.15" fill="#1a1a1a" transform="rotate(-28 1090.4 516.7)"/><ellipse cx="1090.4" cy="516.7" rx="0.35" ry="0.7" fill="#777" transform="rotate(-28 1090.4 516.7)"/>
<ellipse cx="917.6" cy="459.8" rx="1.55" ry="2.15" fill="#1a1a1a" transform="rotate(-28 917.6 459.8)"/><ellipse cx="917.6" cy="459.8" rx="0.35" ry="0.7" fill="#777" transform="rotate(-28 917.6 459.8)"/>
<ellipse cx="942.4" cy="473.7" rx="1.55" ry="2.15" fill="#1a1a1a" transform="rotate(-28 942.4 473.7)"/><ellipse cx="942.4" cy="473.7" rx="0.35" ry="0.7" fill="#777" transform="rotate(-28 942.4 473.7)"/>
<ellipse cx="954.6" cy="481.3" rx="1.55" ry="2.15" fill="#1a1a1a" transform="rotate(-28 954.6 481.3)"/><ellipse cx="954.6" cy="481.3" rx="0.35" ry="0.7" fill="#777" transform="rotate(-28 954.6 481.3)"/>
<ellipse cx="979.5" cy="495.2" rx="1.55" ry="2.15" fill="#1a1a1a" transform="rotate(-28 979.5 495.2)"/><ellipse cx="979.5" cy="495.2" rx="0.35" ry="0.7" fill="#777" transform="rotate(-28 979.5 495.2)"/>
<ellipse cx="917.6" cy="491.4" rx="1.55" ry="2.15" fill="#1a1a1a" transform="rotate(-28 917.6 491.4)"/><ellipse cx="917.6" cy="491.4" rx="0.35" ry="0.7" fill="#777" transform="rotate(-28 917.6 491.4)"/>
<ellipse cx="942.3" cy="505.6" rx="1.55" ry="2.15" fill="#1a1a1a" transform="rotate(-28 942.3 505.6)"/><ellipse cx="942.3" cy="505.6" rx="0.35" ry="0.7" fill="#777" transform="rotate(-28 942.3 505.6)"/>
<ellipse cx="954.5" cy="513.1" rx="1.55" ry="2.15" fill="#1a1a1a" transform="rotate(-28 954.5 513.1)"/><ellipse cx="954.5" cy="513.1" rx="0.35" ry="0.7" fill="#777" transform="rotate(-28 954.5 513.1)"/>
<ellipse cx="979.5" cy="527.3" rx="1.55" ry="2.15" fill="#1a1a1a" transform="rotate(-28 979.5 527.3)"/><ellipse cx="979.5" cy="527.3" rx="0.35" ry="0.7" fill="#777" transform="rotate(-28 979.5 527.3)"/>
<ellipse cx="975.8" cy="542.6" rx="1.55" ry="2.15" fill="#1a1a1a" transform="rotate(-28 975.8 542.6)"/><ellipse cx="975.8" cy="542.6" rx="0.35" ry="0.7" fill="#777" transform="rotate(-28 975.8 542.6)"/>
<ellipse cx="975.8" cy="571" rx="1.55" ry="2.15" fill="#1a1a1a" transform="rotate(-28 975.8 571)"/><ellipse cx="975.8" cy="571" rx="0.35" ry="0.7" fill="#777" transform="rotate(-28 975.8 571)"/>
<ellipse cx="991.5" cy="545.2" rx="1.55" ry="2.15" fill="#1a1a1a" transform="rotate(-28 991.5 545.2)"/><ellipse cx="991.5" cy="545.2" rx="0.35" ry="0.7" fill="#777" transform="rotate(-28 991.5 545.2)"/>
<ellipse cx="991.5" cy="576.9" rx="1.55" ry="2.15" fill="#1a1a1a" transform="rotate(-28 991.5 576.9)"/><ellipse cx="991.5" cy="576.9" rx="0.35" ry="0.7" fill="#777" transform="rotate(-28 991.5 576.9)"/>
<ellipse cx="1016.2" cy="559.3" rx="1.55" ry="2.15" fill="#1a1a1a" transform="rotate(-28 1016.2 559.3)"/><ellipse cx="1016.2" cy="559.3" rx="0.35" ry="0.7" fill="#777" transform="rotate(-28 1016.2 559.3)"/>
<ellipse cx="1016.2" cy="590.8" rx="1.55" ry="2.15" fill="#1a1a1a" transform="rotate(-28 1016.2 590.8)"/><ellipse cx="1016.2" cy="590.8" rx="0.35" ry="0.7" fill="#777" transform="rotate(-28 1016.2 590.8)"/>
<ellipse cx="1028.4" cy="566" rx="1.55" ry="2.15" fill="#1a1a1a" transform="rotate(-28 1028.4 566)"/><ellipse cx="1028.4" cy="566" rx="0.35" ry="0.7" fill="#777" transform="rotate(-28 1028.4 566)"/>
<ellipse cx="1028.4" cy="598" rx="1.55" ry="2.15" fill="#1a1a1a" transform="rotate(-28 1028.4 598)"/><ellipse cx="1028.4" cy="598" rx="0.35" ry="0.7" fill="#777" transform="rotate(-28 1028.4 598)"/>
<ellipse cx="1053" cy="580.2" rx="1.55" ry="2.15" fill="#1a1a1a" transform="rotate(-28 1053 580.2)"/><ellipse cx="1053" cy="580.2" rx="0.35" ry="0.7" fill="#777" transform="rotate(-28 1053 580.2)"/>
<ellipse cx="1053" cy="612.2" rx="1.55" ry="2.15" fill="#1a1a1a" transform="rotate(-28 1053 612.2)"/><ellipse cx="1053" cy="612.2" rx="0.35" ry="0.7" fill="#777" transform="rotate(-28 1053 612.2)"/>
<ellipse cx="1065.5" cy="545.2" rx="1.55" ry="2.15" fill="#1a1a1a" transform="rotate(-28 1065.5 545.2)"/><ellipse cx="1065.5" cy="545.2" rx="0.35" ry="0.7" fill="#777" transform="rotate(-28 1065.5 545.2)"/>
<ellipse cx="1065.5" cy="576.9" rx="1.55" ry="2.15" fill="#1a1a1a" transform="rotate(-28 1065.5 576.9)"/><ellipse cx="1065.5" cy="576.9" rx="0.35" ry="0.7" fill="#777" transform="rotate(-28 1065.5 576.9)"/>
<ellipse cx="1065.5" cy="608.6" rx="1.55" ry="2.15" fill="#1a1a1a" transform="rotate(-28 1065.5 608.6)"/><ellipse cx="1065.5" cy="608.6" rx="0.35" ry="0.7" fill="#777" transform="rotate(-28 1065.5 608.6)"/>
<ellipse cx="1090.2" cy="559.3" rx="1.55" ry="2.15" fill="#1a1a1a" transform="rotate(-28 1090.2 559.3)"/><ellipse cx="1090.2" cy="559.3" rx="0.35" ry="0.7" fill="#777" transform="rotate(-28 1090.2 559.3)"/>
<ellipse cx="1090.2" cy="591" rx="1.55" ry="2.15" fill="#1a1a1a" transform="rotate(-28 1090.2 591)"/><ellipse cx="1090.2" cy="591" rx="0.35" ry="0.7" fill="#777" transform="rotate(-28 1090.2 591)"/>
<ellipse cx="1090.2" cy="622.8" rx="1.55" ry="2.15" fill="#1a1a1a" transform="rotate(-28 1090.2 622.8)"/><ellipse cx="1090.2" cy="622.8" rx="0.35" ry="0.7" fill="#777" transform="rotate(-28 1090.2 622.8)"/>
<ellipse cx="994.6" cy="489.7" rx="1.55" ry="2.15" fill="#1a1a1a" transform="rotate(-28 994.6 489.7)"/><ellipse cx="994.6" cy="489.7" rx="0.35" ry="0.7" fill="#777" transform="rotate(-28 994.6 489.7)"/>
<ellipse cx="994.6" cy="518.4" rx="1.55" ry="2.15" fill="#1a1a1a" transform="rotate(-28 994.6 518.4)"/><ellipse cx="994.6" cy="518.4" rx="0.35" ry="0.7" fill="#777" transform="rotate(-28 994.6 518.4)"/>
<ellipse cx="1016.4" cy="505.4" rx="1.55" ry="2.15" fill="#1a1a1a" transform="rotate(-28 1016.4 505.4)"/><ellipse cx="1016.4" cy="505.4" rx="0.35" ry="0.7" fill="#777" transform="rotate(-28 1016.4 505.4)"/>
<ellipse cx="1027.7" cy="535.2" rx="1.55" ry="2.15" fill="#1a1a1a" transform="rotate(-28 1027.7 535.2)"/><ellipse cx="1027.7" cy="535.2" rx="0.35" ry="0.7" fill="#777" transform="rotate(-28 1027.7 535.2)"/>
<ellipse cx="1050.2" cy="521.7" rx="1.55" ry="2.15" fill="#1a1a1a" transform="rotate(-28 1050.2 521.7)"/><ellipse cx="1050.2" cy="521.7" rx="0.35" ry="0.7" fill="#777" transform="rotate(-28 1050.2 521.7)"/>
<ellipse cx="1050.6" cy="550.3" rx="1.55" ry="2.15" fill="#1a1a1a" transform="rotate(-28 1050.6 550.3)"/><ellipse cx="1050.6" cy="550.3" rx="0.35" ry="0.7" fill="#777" transform="rotate(-28 1050.6 550.3)"/>
<line x1="982.1" y1="92.7" x2="1071.3" y2="144.5" stroke="#111" stroke-width="1.8"/>
<polyline points="982.1,92.7 982.5,97.2 1066.3,145.8" fill="none" stroke="#111" stroke-width="0.9" stroke-linejoin="round"/>
<polyline points="982.1,92.7 995.2,120.3 1106.4,312.1" fill="none" stroke="#111" stroke-width="1.0" stroke-linejoin="round"/>
<line x1="995.2" y1="120.3" x2="1125.3" y2="195.1" stroke="#111" stroke-width="1.7"/>
<line x1="1055.7" y1="154.8" x2="1070" y2="146.3" stroke="#111" stroke-width="2.0"/>
<polyline points="1070,146.3 1079.2,141.3 1126.1,168.9 1138.7,174.7" fill="none" stroke="#111" stroke-width="1.0" stroke-linejoin="round"/>
<line x1="1080.9" y1="140.6" x2="1138.7" y2="174.7" stroke="#111" stroke-width="0.8"/>
<path d="M943.7 296.7L943.7 318.5C943.9 326 947.5 331.5 954.4 334.4L958.6 331.5L988.7 348.6L1061.2 475.6L1099.7 497.6" fill="none" stroke="#111" stroke-width="1.0" transform="matrix(1.00460 0.00000 0.00000 1.00470 190.65 -123.44)"/>
<path d="M941.6 298.4L941.6 318.5C941.8 327.5 946.5 332.8 953.5 334.6L958.6 334.4L986.6 350.6L1059.4 477.2" fill="none" stroke="#111" stroke-width="0.8" transform="matrix(1.00460 0.00000 0.00000 1.00470 190.65 -123.44)"/>
<line x1="1256.5" y1="356.4" x2="1292.7" y2="377.5" stroke="#111" stroke-width="0.8"/>
<line x1="1292.2" y1="377.3" x2="1292.2" y2="526.7" stroke="#111" stroke-width="1.1"/>
<polyline points="1295.1,376.5 1295.1,525.9 1292.2,526.7" fill="none" stroke="#111" stroke-width="0.85" stroke-linejoin="round"/>
<polyline points="1106.4,376.5 1143.6,397.8 1162.1,409.3" fill="none" stroke="#111" stroke-width="1.0" stroke-linejoin="round"/>
<line x1="1162.1" y1="409.3" x2="1162.1" y2="452.1" stroke="#555" stroke-width="1.1"/>
<line x1="1162.1" y1="452.1" x2="1292.3" y2="526.7" stroke="#111" stroke-width="1.0"/>
<line x1="1032.2" y1="183.3" x2="1218" y2="290.5" stroke="#111" stroke-width="1.7"/>
<line x1="1069.4" y1="248.4" x2="1255.9" y2="356.1" stroke="#111" stroke-width="1.7"/>
<line x1="1106.5" y1="312.2" x2="1292.3" y2="419.4" stroke="#111" stroke-width="1.7"/>
<line x1="1106.4" y1="356.2" x2="1292.3" y2="463.5" stroke="#111" stroke-width="1.7"/>
<line x1="1180.7" y1="441.9" x2="1255.1" y2="484.8" stroke="#111" stroke-width="1.7"/>
<line x1="1125.3" y1="216.8" x2="1162.3" y2="237.8" stroke="#111" stroke-width="1.7"/>
<line x1="1162.9" y1="215" x2="1180.7" y2="225.4" stroke="#111" stroke-width="1.0"/>
<line x1="1032.1" y1="141.5" x2="1032.1" y2="183.5" stroke="#111" stroke-width="1.7"/>
<line x1="1069.4" y1="162.9" x2="1069.4" y2="248" stroke="#111" stroke-width="1.7"/>
<line x1="1106.4" y1="184.3" x2="1106.4" y2="312.2" stroke="#111" stroke-width="1.7"/>
<line x1="1106.4" y1="312.2" x2="1106.4" y2="376.5" stroke="#444" stroke-width="1.0"/>
<line x1="1125.3" y1="169.4" x2="1125.3" y2="237" stroke="#111" stroke-width="1.7"/>
<line x1="1162.3" y1="216.8" x2="1162.3" y2="258.4" stroke="#111" stroke-width="1.7"/>
<line x1="1143.6" y1="247.6" x2="1143.6" y2="397.8" stroke="#111" stroke-width="1.7"/>
<line x1="1180.7" y1="227.7" x2="1180.7" y2="462.7" stroke="#111" stroke-width="1.7"/>
<line x1="1255.1" y1="355.8" x2="1255.1" y2="505.4" stroke="#111" stroke-width="1.7"/>
<line x1="1218" y1="290.5" x2="1218" y2="484.1" stroke="#111" stroke-width="1.7"/>
<line x1="1255.1" y1="463.3" x2="1292.3" y2="484.8" stroke="#111" stroke-width="1.7"/>
<ellipse cx="1011.2" cy="121.5" rx="1.55" ry="2.15" fill="#1a1a1a" transform="rotate(-28 1011.2 121.5)"/><ellipse cx="1011.2" cy="121.5" rx="0.35" ry="0.7" fill="#777" transform="rotate(-28 1011.2 121.5)"/>
<ellipse cx="1038.9" cy="137.1" rx="1.55" ry="2.15" fill="#1a1a1a" transform="rotate(-28 1038.9 137.1)"/><ellipse cx="1038.9" cy="137.1" rx="0.35" ry="0.7" fill="#777" transform="rotate(-28 1038.9 137.1)"/>
<ellipse cx="1011.2" cy="137.1" rx="1.55" ry="2.15" fill="#1a1a1a" transform="rotate(-28 1011.2 137.1)"/><ellipse cx="1011.2" cy="137.1" rx="0.35" ry="0.7" fill="#777" transform="rotate(-28 1011.2 137.1)"/>
<ellipse cx="1025.9" cy="162.3" rx="1.55" ry="2.15" fill="#1a1a1a" transform="rotate(-28 1025.9 162.3)"/><ellipse cx="1025.9" cy="162.3" rx="0.35" ry="0.7" fill="#777" transform="rotate(-28 1025.9 162.3)"/>
<ellipse cx="1050.7" cy="159.8" rx="1.55" ry="2.15" fill="#1a1a1a" transform="rotate(-28 1050.7 159.8)"/><ellipse cx="1050.7" cy="159.8" rx="0.35" ry="0.7" fill="#777" transform="rotate(-28 1050.7 159.8)"/>
<ellipse cx="1050.7" cy="188.4" rx="1.55" ry="2.15" fill="#1a1a1a" transform="rotate(-28 1050.7 188.4)"/><ellipse cx="1050.7" cy="188.4" rx="0.35" ry="0.7" fill="#777" transform="rotate(-28 1050.7 188.4)"/>
<ellipse cx="1075.6" cy="154.5" rx="1.55" ry="2.15" fill="#1a1a1a" transform="rotate(-28 1075.6 154.5)"/><ellipse cx="1075.6" cy="154.5" rx="0.35" ry="0.7" fill="#777" transform="rotate(-28 1075.6 154.5)"/>
<ellipse cx="1112.9" cy="175.5" rx="1.55" ry="2.15" fill="#1a1a1a" transform="rotate(-28 1112.9 175.5)"/><ellipse cx="1112.9" cy="175.5" rx="0.35" ry="0.7" fill="#777" transform="rotate(-28 1112.9 175.5)"/>
<ellipse cx="1088" cy="181.7" rx="1.55" ry="2.15" fill="#1a1a1a" transform="rotate(-28 1088 181.7)"/><ellipse cx="1088" cy="181.7" rx="0.35" ry="0.7" fill="#777" transform="rotate(-28 1088 181.7)"/>
<ellipse cx="1088" cy="210.2" rx="1.55" ry="2.15" fill="#1a1a1a" transform="rotate(-28 1088 210.2)"/><ellipse cx="1088" cy="210.2" rx="0.35" ry="0.7" fill="#777" transform="rotate(-28 1088 210.2)"/>
<ellipse cx="1115.7" cy="197.6" rx="1.55" ry="2.15" fill="#1a1a1a" transform="rotate(-28 1115.7 197.6)"/><ellipse cx="1115.7" cy="197.6" rx="0.35" ry="0.7" fill="#777" transform="rotate(-28 1115.7 197.6)"/>
<ellipse cx="1130.8" cy="186" rx="1.55" ry="2.15" fill="#1a1a1a" transform="rotate(-28 1130.8 186)"/><ellipse cx="1130.8" cy="186" rx="0.35" ry="0.7" fill="#777" transform="rotate(-28 1130.8 186)"/>
<ellipse cx="1047.7" cy="201.8" rx="1.55" ry="2.15" fill="#1a1a1a" transform="rotate(-28 1047.7 201.8)"/><ellipse cx="1047.7" cy="201.8" rx="0.35" ry="0.7" fill="#777" transform="rotate(-28 1047.7 201.8)"/>
<ellipse cx="1115.8" cy="225.8" rx="1.55" ry="2.15" fill="#1a1a1a" transform="rotate(-28 1115.8 225.8)"/><ellipse cx="1115.8" cy="225.8" rx="0.35" ry="0.7" fill="#777" transform="rotate(-28 1115.8 225.8)"/>
<ellipse cx="1131.4" cy="231.5" rx="1.55" ry="2.15" fill="#1a1a1a" transform="rotate(-28 1131.4 231.5)"/><ellipse cx="1131.4" cy="231.5" rx="0.35" ry="0.7" fill="#777" transform="rotate(-28 1131.4 231.5)"/>
<ellipse cx="1156.1" cy="227.8" rx="1.55" ry="2.15" fill="#1a1a1a" transform="rotate(-28 1156.1 227.8)"/><ellipse cx="1156.1" cy="227.8" rx="0.35" ry="0.7" fill="#777" transform="rotate(-28 1156.1 227.8)"/>
<ellipse cx="1156.1" cy="245.8" rx="1.55" ry="2.15" fill="#1a1a1a" transform="rotate(-28 1156.1 245.8)"/><ellipse cx="1156.1" cy="245.8" rx="0.35" ry="0.7" fill="#777" transform="rotate(-28 1156.1 245.8)"/>
<ellipse cx="1171.3" cy="230" rx="1.55" ry="2.15" fill="#1a1a1a" transform="rotate(-28 1171.3 230)"/><ellipse cx="1171.3" cy="230" rx="0.35" ry="0.7" fill="#777" transform="rotate(-28 1171.3 230)"/>
<ellipse cx="1171.3" cy="258.3" rx="1.55" ry="2.15" fill="#1a1a1a" transform="rotate(-28 1171.3 258.3)"/><ellipse cx="1171.3" cy="258.3" rx="0.35" ry="0.7" fill="#777" transform="rotate(-28 1171.3 258.3)"/>
<ellipse cx="1187.2" cy="250" rx="1.55" ry="2.15" fill="#1a1a1a" transform="rotate(-28 1187.2 250)"/><ellipse cx="1187.2" cy="250" rx="0.35" ry="0.7" fill="#777" transform="rotate(-28 1187.2 250)"/>
<ellipse cx="1201.7" cy="275.6" rx="1.55" ry="2.15" fill="#1a1a1a" transform="rotate(-28 1201.7 275.6)"/><ellipse cx="1201.7" cy="275.6" rx="0.35" ry="0.7" fill="#777" transform="rotate(-28 1201.7 275.6)"/>
<ellipse cx="1062.8" cy="226.2" rx="1.55" ry="2.15" fill="#1a1a1a" transform="rotate(-28 1062.8 226.2)"/><ellipse cx="1062.8" cy="226.2" rx="0.35" ry="0.7" fill="#777" transform="rotate(-28 1062.8 226.2)"/>
<ellipse cx="1075.5" cy="231.1" rx="1.55" ry="2.15" fill="#1a1a1a" transform="rotate(-28 1075.5 231.1)"/><ellipse cx="1075.5" cy="231.1" rx="0.35" ry="0.7" fill="#777" transform="rotate(-28 1075.5 231.1)"/>
<ellipse cx="1100.2" cy="245.4" rx="1.55" ry="2.15" fill="#1a1a1a" transform="rotate(-28 1100.2 245.4)"/><ellipse cx="1100.2" cy="245.4" rx="0.35" ry="0.7" fill="#777" transform="rotate(-28 1100.2 245.4)"/>
<ellipse cx="1112.7" cy="252.7" rx="1.55" ry="2.15" fill="#1a1a1a" transform="rotate(-28 1112.7 252.7)"/><ellipse cx="1112.7" cy="252.7" rx="0.35" ry="0.7" fill="#777" transform="rotate(-28 1112.7 252.7)"/>
<ellipse cx="1137.4" cy="267" rx="1.55" ry="2.15" fill="#1a1a1a" transform="rotate(-28 1137.4 267)"/><ellipse cx="1137.4" cy="267" rx="0.35" ry="0.7" fill="#777" transform="rotate(-28 1137.4 267)"/>
<ellipse cx="1149.6" cy="274" rx="1.55" ry="2.15" fill="#1a1a1a" transform="rotate(-28 1149.6 274)"/><ellipse cx="1149.6" cy="274" rx="0.35" ry="0.7" fill="#777" transform="rotate(-28 1149.6 274)"/>
<ellipse cx="1174.6" cy="288.5" rx="1.55" ry="2.15" fill="#1a1a1a" transform="rotate(-28 1174.6 288.5)"/><ellipse cx="1174.6" cy="288.5" rx="0.35" ry="0.7" fill="#777" transform="rotate(-28 1174.6 288.5)"/>
<ellipse cx="1187" cy="295.7" rx="1.55" ry="2.15" fill="#1a1a1a" transform="rotate(-28 1187 295.7)"/><ellipse cx="1187" cy="295.7" rx="0.35" ry="0.7" fill="#777" transform="rotate(-28 1187 295.7)"/>
<ellipse cx="1211.8" cy="310" rx="1.55" ry="2.15" fill="#1a1a1a" transform="rotate(-28 1211.8 310)"/><ellipse cx="1211.8" cy="310" rx="0.35" ry="0.7" fill="#777" transform="rotate(-28 1211.8 310)"/>
<ellipse cx="1224.1" cy="314.7" rx="1.55" ry="2.15" fill="#1a1a1a" transform="rotate(-28 1224.1 314.7)"/><ellipse cx="1224.1" cy="314.7" rx="0.35" ry="0.7" fill="#777" transform="rotate(-28 1224.1 314.7)"/>
<ellipse cx="1238.6" cy="338.9" rx="1.55" ry="2.15" fill="#1a1a1a" transform="rotate(-28 1238.6 338.9)"/><ellipse cx="1238.6" cy="338.9" rx="0.35" ry="0.7" fill="#777" transform="rotate(-28 1238.6 338.9)"/>
<ellipse cx="1085.5" cy="266.1" rx="1.55" ry="2.15" fill="#1a1a1a" transform="rotate(-28 1085.5 266.1)"/><ellipse cx="1085.5" cy="266.1" rx="0.35" ry="0.7" fill="#777" transform="rotate(-28 1085.5 266.1)"/>
<ellipse cx="1100.2" cy="290.7" rx="1.55" ry="2.15" fill="#1a1a1a" transform="rotate(-28 1100.2 290.7)"/><ellipse cx="1100.2" cy="290.7" rx="0.35" ry="0.7" fill="#777" transform="rotate(-28 1100.2 290.7)"/>
<ellipse cx="1112.7" cy="295.4" rx="1.55" ry="2.15" fill="#1a1a1a" transform="rotate(-28 1112.7 295.4)"/><ellipse cx="1112.7" cy="295.4" rx="0.35" ry="0.7" fill="#777" transform="rotate(-28 1112.7 295.4)"/>
<ellipse cx="1137.5" cy="309.6" rx="1.55" ry="2.15" fill="#1a1a1a" transform="rotate(-28 1137.5 309.6)"/><ellipse cx="1137.5" cy="309.6" rx="0.35" ry="0.7" fill="#777" transform="rotate(-28 1137.5 309.6)"/>
<ellipse cx="1149.7" cy="317" rx="1.55" ry="2.15" fill="#1a1a1a" transform="rotate(-28 1149.7 317)"/><ellipse cx="1149.7" cy="317" rx="0.35" ry="0.7" fill="#777" transform="rotate(-28 1149.7 317)"/>
<ellipse cx="1174.7" cy="331.3" rx="1.55" ry="2.15" fill="#1a1a1a" transform="rotate(-28 1174.7 331.3)"/><ellipse cx="1174.7" cy="331.3" rx="0.35" ry="0.7" fill="#777" transform="rotate(-28 1174.7 331.3)"/>
<ellipse cx="1187" cy="338.4" rx="1.55" ry="2.15" fill="#1a1a1a" transform="rotate(-28 1187 338.4)"/><ellipse cx="1187" cy="338.4" rx="0.35" ry="0.7" fill="#777" transform="rotate(-28 1187 338.4)"/>
<ellipse cx="1211.7" cy="352.6" rx="1.55" ry="2.15" fill="#1a1a1a" transform="rotate(-28 1211.7 352.6)"/><ellipse cx="1211.7" cy="352.6" rx="0.35" ry="0.7" fill="#777" transform="rotate(-28 1211.7 352.6)"/>
<ellipse cx="1224.2" cy="360.1" rx="1.55" ry="2.15" fill="#1a1a1a" transform="rotate(-28 1224.2 360.1)"/><ellipse cx="1224.2" cy="360.1" rx="0.35" ry="0.7" fill="#777" transform="rotate(-28 1224.2 360.1)"/>
<ellipse cx="1248.9" cy="374.4" rx="1.55" ry="2.15" fill="#1a1a1a" transform="rotate(-28 1248.9 374.4)"/><ellipse cx="1248.9" cy="374.4" rx="0.35" ry="0.7" fill="#777" transform="rotate(-28 1248.9 374.4)"/>
<ellipse cx="1261.2" cy="381.3" rx="1.55" ry="2.15" fill="#1a1a1a" transform="rotate(-28 1261.2 381.3)"/><ellipse cx="1261.2" cy="381.3" rx="0.35" ry="0.7" fill="#777" transform="rotate(-28 1261.2 381.3)"/>
<ellipse cx="1286.1" cy="395.7" rx="1.55" ry="2.15" fill="#1a1a1a" transform="rotate(-28 1286.1 395.7)"/><ellipse cx="1286.1" cy="395.7" rx="0.35" ry="0.7" fill="#777" transform="rotate(-28 1286.1 395.7)"/>
<ellipse cx="1112.5" cy="338.5" rx="1.55" ry="2.15" fill="#1a1a1a" transform="rotate(-28 1112.5 338.5)"/><ellipse cx="1112.5" cy="338.5" rx="0.35" ry="0.7" fill="#777" transform="rotate(-28 1112.5 338.5)"/>
<ellipse cx="1137.4" cy="352.5" rx="1.55" ry="2.15" fill="#1a1a1a" transform="rotate(-28 1137.4 352.5)"/><ellipse cx="1137.4" cy="352.5" rx="0.35" ry="0.7" fill="#777" transform="rotate(-28 1137.4 352.5)"/>
<ellipse cx="1149.6" cy="360.1" rx="1.55" ry="2.15" fill="#1a1a1a" transform="rotate(-28 1149.6 360.1)"/><ellipse cx="1149.6" cy="360.1" rx="0.35" ry="0.7" fill="#777" transform="rotate(-28 1149.6 360.1)"/>
<ellipse cx="1174.7" cy="374.1" rx="1.55" ry="2.15" fill="#1a1a1a" transform="rotate(-28 1174.7 374.1)"/><ellipse cx="1174.7" cy="374.1" rx="0.35" ry="0.7" fill="#777" transform="rotate(-28 1174.7 374.1)"/>
<ellipse cx="1112.5" cy="370.3" rx="1.55" ry="2.15" fill="#1a1a1a" transform="rotate(-28 1112.5 370.3)"/><ellipse cx="1112.5" cy="370.3" rx="0.35" ry="0.7" fill="#777" transform="rotate(-28 1112.5 370.3)"/>
<ellipse cx="1137.3" cy="384.5" rx="1.55" ry="2.15" fill="#1a1a1a" transform="rotate(-28 1137.3 384.5)"/><ellipse cx="1137.3" cy="384.5" rx="0.35" ry="0.7" fill="#777" transform="rotate(-28 1137.3 384.5)"/>
<ellipse cx="1149.5" cy="392.1" rx="1.55" ry="2.15" fill="#1a1a1a" transform="rotate(-28 1149.5 392.1)"/><ellipse cx="1149.5" cy="392.1" rx="0.35" ry="0.7" fill="#777" transform="rotate(-28 1149.5 392.1)"/>
<ellipse cx="1174.7" cy="406.3" rx="1.55" ry="2.15" fill="#1a1a1a" transform="rotate(-28 1174.7 406.3)"/><ellipse cx="1174.7" cy="406.3" rx="0.35" ry="0.7" fill="#777" transform="rotate(-28 1174.7 406.3)"/>
<ellipse cx="1170.9" cy="421.7" rx="1.55" ry="2.15" fill="#1a1a1a" transform="rotate(-28 1170.9 421.7)"/><ellipse cx="1170.9" cy="421.7" rx="0.35" ry="0.7" fill="#777" transform="rotate(-28 1170.9 421.7)"/>
<ellipse cx="1170.9" cy="450.2" rx="1.55" ry="2.15" fill="#1a1a1a" transform="rotate(-28 1170.9 450.2)"/><ellipse cx="1170.9" cy="450.2" rx="0.35" ry="0.7" fill="#777" transform="rotate(-28 1170.9 450.2)"/>
<ellipse cx="1186.7" cy="424.3" rx="1.55" ry="2.15" fill="#1a1a1a" transform="rotate(-28 1186.7 424.3)"/><ellipse cx="1186.7" cy="424.3" rx="0.35" ry="0.7" fill="#777" transform="rotate(-28 1186.7 424.3)"/>
<ellipse cx="1186.7" cy="456.2" rx="1.55" ry="2.15" fill="#1a1a1a" transform="rotate(-28 1186.7 456.2)"/><ellipse cx="1186.7" cy="456.2" rx="0.35" ry="0.7" fill="#777" transform="rotate(-28 1186.7 456.2)"/>
<ellipse cx="1211.5" cy="438.5" rx="1.55" ry="2.15" fill="#1a1a1a" transform="rotate(-28 1211.5 438.5)"/><ellipse cx="1211.5" cy="438.5" rx="0.35" ry="0.7" fill="#777" transform="rotate(-28 1211.5 438.5)"/>
<ellipse cx="1211.5" cy="470.1" rx="1.55" ry="2.15" fill="#1a1a1a" transform="rotate(-28 1211.5 470.1)"/><ellipse cx="1211.5" cy="470.1" rx="0.35" ry="0.7" fill="#777" transform="rotate(-28 1211.5 470.1)"/>
<ellipse cx="1223.8" cy="445.2" rx="1.55" ry="2.15" fill="#1a1a1a" transform="rotate(-28 1223.8 445.2)"/><ellipse cx="1223.8" cy="445.2" rx="0.35" ry="0.7" fill="#777" transform="rotate(-28 1223.8 445.2)"/>
<ellipse cx="1223.8" cy="477.4" rx="1.55" ry="2.15" fill="#1a1a1a" transform="rotate(-28 1223.8 477.4)"/><ellipse cx="1223.8" cy="477.4" rx="0.35" ry="0.7" fill="#777" transform="rotate(-28 1223.8 477.4)"/>
<ellipse cx="1248.5" cy="459.5" rx="1.55" ry="2.15" fill="#1a1a1a" transform="rotate(-28 1248.5 459.5)"/><ellipse cx="1248.5" cy="459.5" rx="0.35" ry="0.7" fill="#777" transform="rotate(-28 1248.5 459.5)"/>
<ellipse cx="1248.5" cy="491.6" rx="1.55" ry="2.15" fill="#1a1a1a" transform="rotate(-28 1248.5 491.6)"/><ellipse cx="1248.5" cy="491.6" rx="0.35" ry="0.7" fill="#777" transform="rotate(-28 1248.5 491.6)"/>
<ellipse cx="1261" cy="424.3" rx="1.55" ry="2.15" fill="#1a1a1a" transform="rotate(-28 1261 424.3)"/><ellipse cx="1261" cy="424.3" rx="0.35" ry="0.7" fill="#777" transform="rotate(-28 1261 424.3)"/>
<ellipse cx="1261" cy="456.2" rx="1.55" ry="2.15" fill="#1a1a1a" transform="rotate(-28 1261 456.2)"/><ellipse cx="1261" cy="456.2" rx="0.35" ry="0.7" fill="#777" transform="rotate(-28 1261 456.2)"/>
<ellipse cx="1261" cy="488" rx="1.55" ry="2.15" fill="#1a1a1a" transform="rotate(-28 1261 488)"/><ellipse cx="1261" cy="488" rx="0.35" ry="0.7" fill="#777" transform="rotate(-28 1261 488)"/>
<ellipse cx="1285.9" cy="438.5" rx="1.55" ry="2.15" fill="#1a1a1a" transform="rotate(-28 1285.9 438.5)"/><ellipse cx="1285.9" cy="438.5" rx="0.35" ry="0.7" fill="#777" transform="rotate(-28 1285.9 438.5)"/>
<ellipse cx="1285.9" cy="470.3" rx="1.55" ry="2.15" fill="#1a1a1a" transform="rotate(-28 1285.9 470.3)"/><ellipse cx="1285.9" cy="470.3" rx="0.35" ry="0.7" fill="#777" transform="rotate(-28 1285.9 470.3)"/>
<ellipse cx="1285.9" cy="502.3" rx="1.55" ry="2.15" fill="#1a1a1a" transform="rotate(-28 1285.9 502.3)"/><ellipse cx="1285.9" cy="502.3" rx="0.35" ry="0.7" fill="#777" transform="rotate(-28 1285.9 502.3)"/>
<ellipse cx="1187" cy="381.5" rx="1.55" ry="2.15" fill="#1a1a1a" transform="rotate(-28 1187 381.5)"/><ellipse cx="1187" cy="381.5" rx="0.35" ry="0.7" fill="#777" transform="rotate(-28 1187 381.5)"/>
<ellipse cx="1211.7" cy="395.8" rx="1.55" ry="2.15" fill="#1a1a1a" transform="rotate(-28 1211.7 395.8)"/><ellipse cx="1211.7" cy="395.8" rx="0.35" ry="0.7" fill="#777" transform="rotate(-28 1211.7 395.8)"/>
<ellipse cx="1224.2" cy="403.2" rx="1.55" ry="2.15" fill="#1a1a1a" transform="rotate(-28 1224.2 403.2)"/><ellipse cx="1224.2" cy="403.2" rx="0.35" ry="0.7" fill="#777" transform="rotate(-28 1224.2 403.2)"/>
<ellipse cx="1248.9" cy="417.5" rx="1.55" ry="2.15" fill="#1a1a1a" transform="rotate(-28 1248.9 417.5)"/><ellipse cx="1248.9" cy="417.5" rx="0.35" ry="0.7" fill="#777" transform="rotate(-28 1248.9 417.5)"/>
<!-- part_box -->
<polyline points="372.5,783.9 372.5,458.3 540.3,458.3 696.6,546.4 696.6,650.4" fill="none" stroke="#222" stroke-width="1.0" stroke-linejoin="round"/>
<polyline points="372.5,783.9 696.6,783.9 696.6,690.4" fill="none" stroke="#222" stroke-width="1.0" stroke-linejoin="round"/>
<circle cx="696.6" cy="670.4" r="20" fill="none" stroke="#222" stroke-width="1.1"/>
<text x="696.6" y="677.8" font-size="18" fill="#111" stroke="#111" stroke-width="0.3" text-anchor="middle">50</text>
<line x1="534.6" y1="475" x2="639.6" y2="534.2" stroke="#111" stroke-width="1.0"/>
<polyline points="534.6,475 536,473.7 639.9,533 639.9,564.5" fill="none" stroke="#111" stroke-width="0.8" stroke-linejoin="round"/>
<line x1="638.5" y1="533.6" x2="638.5" y2="563.8" stroke="#111" stroke-width="1.2"/>
<polyline points="638.5,563.8 665.6,577.9 665.6,622 663.6,622.9" fill="none" stroke="#111" stroke-width="1.0" stroke-linejoin="round"/>
<polyline points="640,563.1 664.6,576.5 665.6,577.9" fill="none" stroke="#111" stroke-width="0.8" stroke-linejoin="round"/>
<line x1="663.6" y1="578.6" x2="663.6" y2="622.9" stroke="#111" stroke-width="1.0"/>
<line x1="534.6" y1="475" x2="534.6" y2="594.8" stroke="#111" stroke-width="1.5"/>
<line x1="560.5" y1="489.6" x2="560.5" y2="593.4" stroke="#111" stroke-width="1.5"/>
<line x1="562.2" y1="534.8" x2="562.2" y2="594.2" stroke="#111" stroke-width="0.8"/>
<line x1="586.6" y1="504.3" x2="586.6" y2="548.6" stroke="#111" stroke-width="1.5"/>
<line x1="612.4" y1="518.8" x2="612.4" y2="591.8" stroke="#111" stroke-width="1.5"/>
<line x1="638.5" y1="563.8" x2="638.5" y2="608.5" stroke="#111" stroke-width="1.5"/>
<line x1="600" y1="556.2" x2="600" y2="615.2" stroke="#111" stroke-width="1.1"/>
<line x1="598.4" y1="555.3" x2="598.4" y2="614.4" stroke="#444" stroke-width="0.8"/>
<line x1="534.6" y1="490.1" x2="560.5" y2="504.6" stroke="#111" stroke-width="1.5"/>
<line x1="534.6" y1="505.2" x2="638.5" y2="563.8" stroke="#111" stroke-width="1.5"/>
<line x1="534.6" y1="534.4" x2="560.5" y2="548.9" stroke="#111" stroke-width="1.5"/>
<line x1="534.6" y1="564.5" x2="560.5" y2="579" stroke="#111" stroke-width="1.5"/>
<line x1="534.6" y1="594.3" x2="559.9" y2="608.6" stroke="#111" stroke-width="1.5"/>
<line x1="560.5" y1="534.4" x2="612.4" y2="563.6" stroke="#111" stroke-width="1.0"/>
<polyline points="612.4,579.6 638.5,594.3 665.6,609" fill="none" stroke="#111" stroke-width="1.5" stroke-linejoin="round"/>
<line x1="638.5" y1="608.5" x2="663.6" y2="622.9" stroke="#111" stroke-width="1.0"/>
<line x1="600" y1="587.6" x2="651.3" y2="616.9" stroke="#111" stroke-width="1.5"/>
<polyline points="600,615.2 651.3,645.3 652.8,644.6 652.8,617.8" fill="none" stroke="#111" stroke-width="1.0" stroke-linejoin="round"/>
<line x1="651.3" y1="616.9" x2="651.3" y2="645.3" stroke="#111" stroke-width="1.1"/>
<line x1="624.6" y1="601.8" x2="624.6" y2="629.8" stroke="#111" stroke-width="1.5"/>
<line x1="559.9" y1="593.4" x2="598.4" y2="615.2" stroke="#111" stroke-width="1.0"/>
<line x1="561.5" y1="592.6" x2="598.4" y2="613.4" stroke="#111" stroke-width="0.8"/>
<line x1="559.9" y1="593.4" x2="559.9" y2="661.2" stroke="#111" stroke-width="1.5"/>
<line x1="586.1" y1="608.5" x2="586.1" y2="680.4" stroke="#111" stroke-width="1.5"/>
<line x1="611.9" y1="622.2" x2="611.9" y2="699.3" stroke="#111" stroke-width="1.2"/>
<polyline points="613.5,669.6 613.5,698.4 611.9,699.3" fill="none" stroke="#111" stroke-width="0.8" stroke-linejoin="round"/>
<line x1="559.9" y1="623.5" x2="638.4" y2="667.7" stroke="#111" stroke-width="1.5"/>
<line x1="638.4" y1="638" x2="638.4" y2="682.9" stroke="#111" stroke-width="1.2"/>
<polyline points="640.1,638.9 640.1,682 638.4,682.9" fill="none" stroke="#111" stroke-width="0.8" stroke-linejoin="round"/>
<line x1="613.5" y1="669.6" x2="638.4" y2="682.9" stroke="#111" stroke-width="1.0"/>
<polyline points="542.6,650.3 559.9,661.6 586.1,680.4 611.9,699.3" fill="none" stroke="#111" stroke-width="1.0" stroke-linejoin="round"/>
<line x1="534.6" y1="503.4" x2="531.8" y2="503.8" stroke="#111" stroke-width="1.0"/>
<polyline points="531.3,503.8 518.2,522.3 517.6,540.3" fill="none" stroke="#111" stroke-width="1.0" stroke-linejoin="round"/>
<path d="M517.6 540.3C518.2 544.4 519.9 558 521.3 565C522.7 572 523.8 576.7 526 582C528.2 587.3 531.8 591.8 534.6 597C537.4 602.2 541.3 610.3 542.6 613" fill="none" stroke="#111" stroke-width="1.0"/>
<polyline points="542.6,613 550,621.9 542.6,630.2 542.6,650.3" fill="none" stroke="#111" stroke-width="1.0" stroke-linejoin="round"/>
<line x1="517.6" y1="540.3" x2="534.6" y2="548.6" stroke="#111" stroke-width="1.5"/>
<circle cx="538.8" cy="484.7" r="1.1" fill="#111"/>
<circle cx="556" cy="494.8" r="1.1" fill="#111"/>
<circle cx="538.8" cy="499.6" r="1.1" fill="#111"/>
<circle cx="556" cy="509.7" r="1.1" fill="#111"/>
<circle cx="528.8" cy="516.5" r="1.1" fill="#111"/>
<circle cx="547.2" cy="516.9" r="1.1" fill="#111"/>
<circle cx="526.3" cy="534.7" r="1.1" fill="#111"/>
<circle cx="547.2" cy="536.9" r="1.1" fill="#111"/>
<circle cx="547.2" cy="546.5" r="1.1" fill="#111"/>
<circle cx="526.3" cy="554.5" r="1.1" fill="#111"/>
<circle cx="547.2" cy="566.6" r="1.1" fill="#111"/>
<circle cx="547.2" cy="576.5" r="1.1" fill="#111"/>
<circle cx="528.8" cy="580.6" r="1.1" fill="#111"/>
<circle cx="564.4" cy="507.3" r="1.1" fill="#111"/>
<circle cx="581.6" cy="517.4" r="1.1" fill="#111"/>
<circle cx="564.4" cy="529.4" r="1.1" fill="#111"/>
<circle cx="581.6" cy="539.4" r="1.1" fill="#111"/>
<circle cx="590.3" cy="522.2" r="1.1" fill="#111"/>
<circle cx="607.5" cy="532.2" r="1.1" fill="#111"/>
<circle cx="590.3" cy="544.4" r="1.1" fill="#111"/>
<circle cx="607.5" cy="554.5" r="1.1" fill="#111"/>
<circle cx="616.2" cy="567" r="1.1" fill="#111"/>
<circle cx="633.4" cy="576.6" r="1.1" fill="#111"/>
<circle cx="616.2" cy="588.8" r="1.1" fill="#111"/>
<circle cx="633.4" cy="598.8" r="1.1" fill="#111"/>
<circle cx="605.4" cy="565.6" r="1.1" fill="#111"/>
<circle cx="605.4" cy="584.8" r="1.1" fill="#111"/>
<circle cx="641.8" cy="581.5" r="1.1" fill="#111"/>
<circle cx="659.1" cy="591.3" r="1.1" fill="#111"/>
<circle cx="641.8" cy="603.8" r="1.1" fill="#111"/>
<circle cx="659.2" cy="613.8" r="1.1" fill="#111"/>
<circle cx="547.2" cy="596" r="1.1" fill="#111"/>
<circle cx="539.6" cy="601.8" r="1.1" fill="#111"/>
<circle cx="551.8" cy="633.2" r="1.1" fill="#111"/>
<circle cx="602.8" cy="603.8" r="1.1" fill="#111"/>
<circle cx="620.4" cy="613.5" r="1.1" fill="#111"/>
<circle cx="629.1" cy="618.5" r="1.1" fill="#111"/>
<circle cx="646.3" cy="628.6" r="1.1" fill="#111"/>
<circle cx="564.4" cy="611" r="1.1" fill="#111"/>
<circle cx="581.6" cy="621" r="1.1" fill="#111"/>
<circle cx="564.4" cy="631.1" r="1.1" fill="#111"/>
<circle cx="581.6" cy="655" r="1.1" fill="#111"/>
<circle cx="590.3" cy="626.1" r="1.1" fill="#111"/>
<circle cx="607.5" cy="635.8" r="1.1" fill="#111"/>
<circle cx="590.3" cy="646.1" r="1.1" fill="#111"/>
<circle cx="607.5" cy="673.2" r="1.1" fill="#111"/>
<circle cx="616.2" cy="641.1" r="1.1" fill="#111"/>
<circle cx="633.4" cy="650.8" r="1.1" fill="#111"/>
<circle cx="616.2" cy="663.3" r="1.1" fill="#111"/>
<circle cx="633.4" cy="673.2" r="1.1" fill="#111"/>
<circle cx="616.2" cy="536.9" r="1.1" fill="#111"/>
<circle cx="633.4" cy="547" r="1.1" fill="#111"/>
<line x1="401.6" y1="551.7" x2="493.7" y2="603.6" stroke="#111" stroke-width="1.0"/>
<polyline points="401.6,551.7 403,550.4 494,602.4 494,634" fill="none" stroke="#111" stroke-width="0.8" stroke-linejoin="round"/>
<line x1="492.6" y1="603" x2="492.6" y2="633.2" stroke="#111" stroke-width="1.2"/>
<polyline points="505.5,640.5 532.6,654.6 532.6,698.7 530.6,699.6" fill="none" stroke="#111" stroke-width="1.0" stroke-linejoin="round"/>
<polyline points="507,639.8 531.6,653.2 532.6,654.6" fill="none" stroke="#111" stroke-width="0.8" stroke-linejoin="round"/>
<line x1="530.6" y1="655.3" x2="530.6" y2="699.6" stroke="#111" stroke-width="1.0"/>
<line x1="492.6" y1="633.2" x2="505.5" y2="640.5" stroke="#111" stroke-width="1.0"/>
<line x1="401.6" y1="551.7" x2="401.6" y2="671.5" stroke="#111" stroke-width="1.5"/>
<line x1="427.5" y1="566.3" x2="427.5" y2="670.1" stroke="#111" stroke-width="1.5"/>
<line x1="429.2" y1="611.5" x2="429.2" y2="670.9" stroke="#111" stroke-width="0.8"/>
<line x1="453.6" y1="581" x2="453.6" y2="625.3" stroke="#111" stroke-width="1.5"/>
<line x1="479.4" y1="595.5" x2="479.4" y2="668.5" stroke="#111" stroke-width="1.5"/>
<line x1="505.5" y1="640.5" x2="505.5" y2="685.2" stroke="#111" stroke-width="1.5"/>
<line x1="467" y1="632.9" x2="467" y2="691.9" stroke="#111" stroke-width="1.1"/>
<line x1="465.4" y1="632" x2="465.4" y2="691.1" stroke="#444" stroke-width="0.8"/>
<line x1="401.6" y1="566.8" x2="427.5" y2="581.3" stroke="#111" stroke-width="1.5"/>
<line x1="401.6" y1="581.9" x2="505.5" y2="640.5" stroke="#111" stroke-width="1.5"/>
<line x1="401.6" y1="611.1" x2="427.5" y2="625.6" stroke="#111" stroke-width="1.5"/>
<line x1="401.6" y1="641.2" x2="427.5" y2="655.7" stroke="#111" stroke-width="1.5"/>
<line x1="401.6" y1="671" x2="426.9" y2="685.3" stroke="#111" stroke-width="1.5"/>
<line x1="427.5" y1="611.1" x2="479.4" y2="640.3" stroke="#111" stroke-width="1.0"/>
<polyline points="479.4,656.3 505.5,671 532.6,685.7" fill="none" stroke="#111" stroke-width="1.5" stroke-linejoin="round"/>
<line x1="505.5" y1="685.2" x2="530.6" y2="699.6" stroke="#111" stroke-width="1.0"/>
<line x1="467" y1="664.3" x2="518.3" y2="693.6" stroke="#111" stroke-width="1.5"/>
<polyline points="467,691.9 518.3,722 519.8,721.3 519.8,694.5" fill="none" stroke="#111" stroke-width="1.0" stroke-linejoin="round"/>
<line x1="518.3" y1="693.6" x2="518.3" y2="722" stroke="#111" stroke-width="1.1"/>
<line x1="491.6" y1="678.5" x2="491.6" y2="706.5" stroke="#111" stroke-width="1.5"/>
<line x1="426.9" y1="670.1" x2="465.4" y2="691.9" stroke="#111" stroke-width="1.0"/>
<line x1="428.5" y1="669.3" x2="465.4" y2="690.1" stroke="#111" stroke-width="0.8"/>
<line x1="426.9" y1="670.1" x2="426.9" y2="737.9" stroke="#111" stroke-width="1.5"/>
<line x1="453.1" y1="685.2" x2="453.1" y2="757.1" stroke="#111" stroke-width="1.5"/>
<line x1="478.9" y1="698.9" x2="478.9" y2="776" stroke="#111" stroke-width="1.2"/>
<polyline points="480.5,746.3 480.5,775.1 478.9,776" fill="none" stroke="#111" stroke-width="0.8" stroke-linejoin="round"/>
<line x1="426.9" y1="700.2" x2="505.4" y2="744.4" stroke="#111" stroke-width="1.5"/>
<line x1="505.4" y1="714.7" x2="505.4" y2="759.6" stroke="#111" stroke-width="1.2"/>
<polyline points="507.1,715.6 507.1,758.7 505.4,759.6" fill="none" stroke="#111" stroke-width="0.8" stroke-linejoin="round"/>
<line x1="480.5" y1="746.3" x2="505.4" y2="759.6" stroke="#111" stroke-width="1.0"/>
<polyline points="409.6,727 426.9,738.3 453.1,757.1 478.9,776" fill="none" stroke="#111" stroke-width="1.0" stroke-linejoin="round"/>
<line x1="401.6" y1="580.1" x2="398.8" y2="580.5" stroke="#111" stroke-width="1.0"/>
<polyline points="398.3,580.5 385.2,599 384.6,617" fill="none" stroke="#111" stroke-width="1.0" stroke-linejoin="round"/>
<path d="M384.6 617C385.2 621.1 386.9 634.8 388.3 641.7C389.7 648.7 390.8 653.4 393 658.7C395.2 664 398.8 668.5 401.6 673.7C404.4 678.9 408.3 687 409.6 689.7" fill="none" stroke="#111" stroke-width="1.0"/>
<polyline points="409.6,689.7 417,698.6 409.6,706.9 409.6,727" fill="none" stroke="#111" stroke-width="1.0" stroke-linejoin="round"/>
<line x1="384.6" y1="617" x2="401.6" y2="625.3" stroke="#111" stroke-width="1.5"/>
<circle cx="403.5" cy="563.4" r="2.15" fill="#111"/><circle cx="403.5" cy="563.4" r="0.5" fill="#777"/>
<circle cx="420.7" cy="573.5" r="2.15" fill="#111"/><circle cx="420.7" cy="573.5" r="0.5" fill="#777"/>
<circle cx="403.5" cy="578.3" r="2.15" fill="#111"/><circle cx="403.5" cy="578.3" r="0.5" fill="#777"/>
<circle cx="420.7" cy="588.4" r="2.15" fill="#111"/><circle cx="420.7" cy="588.4" r="0.5" fill="#777"/>
<circle cx="393.5" cy="595.2" r="2.15" fill="#111"/><circle cx="393.5" cy="595.2" r="0.5" fill="#777"/>
<circle cx="411.9" cy="595.6" r="2.15" fill="#111"/><circle cx="411.9" cy="595.6" r="0.5" fill="#777"/>
<circle cx="391" cy="613.4" r="2.15" fill="#111"/><circle cx="391" cy="613.4" r="0.5" fill="#777"/>
<circle cx="411.9" cy="615.6" r="2.15" fill="#111"/><circle cx="411.9" cy="615.6" r="0.5" fill="#777"/>
<circle cx="411.9" cy="625.2" r="2.15" fill="#111"/><circle cx="411.9" cy="625.2" r="0.5" fill="#777"/>
<circle cx="391" cy="633.2" r="2.15" fill="#111"/><circle cx="391" cy="633.2" r="0.5" fill="#777"/>
<circle cx="411.9" cy="645.3" r="2.15" fill="#111"/><circle cx="411.9" cy="645.3" r="0.5" fill="#777"/>
<circle cx="411.9" cy="655.2" r="2.15" fill="#111"/><circle cx="411.9" cy="655.2" r="0.5" fill="#777"/>
<circle cx="393.5" cy="659.3" r="2.15" fill="#111"/><circle cx="393.5" cy="659.3" r="0.5" fill="#777"/>
<circle cx="429.1" cy="586" r="2.15" fill="#111"/><circle cx="429.1" cy="586" r="0.5" fill="#777"/>
<circle cx="446.3" cy="596.1" r="2.15" fill="#111"/><circle cx="446.3" cy="596.1" r="0.5" fill="#777"/>
<circle cx="429.1" cy="608.1" r="2.15" fill="#111"/><circle cx="429.1" cy="608.1" r="0.5" fill="#777"/>
<circle cx="446.3" cy="618.1" r="2.15" fill="#111"/><circle cx="446.3" cy="618.1" r="0.5" fill="#777"/>
<circle cx="455" cy="600.9" r="2.15" fill="#111"/><circle cx="455" cy="600.9" r="0.5" fill="#777"/>
<circle cx="472.2" cy="610.9" r="2.15" fill="#111"/><circle cx="472.2" cy="610.9" r="0.5" fill="#777"/>
<circle cx="455" cy="623.1" r="2.15" fill="#111"/><circle cx="455" cy="623.1" r="0.5" fill="#777"/>
<circle cx="472.2" cy="633.2" r="2.15" fill="#111"/><circle cx="472.2" cy="633.2" r="0.5" fill="#777"/>
<circle cx="480.9" cy="645.7" r="2.15" fill="#111"/><circle cx="480.9" cy="645.7" r="0.5" fill="#777"/>
<circle cx="498.1" cy="655.3" r="2.15" fill="#111"/><circle cx="498.1" cy="655.3" r="0.5" fill="#777"/>
<circle cx="480.9" cy="667.5" r="2.15" fill="#111"/><circle cx="480.9" cy="667.5" r="0.5" fill="#777"/>
<circle cx="498.1" cy="677.5" r="2.15" fill="#111"/><circle cx="498.1" cy="677.5" r="0.5" fill="#777"/>
<circle cx="470.1" cy="644.3" r="2.15" fill="#111"/><circle cx="470.1" cy="644.3" r="0.5" fill="#777"/>
<circle cx="470.1" cy="663.5" r="2.15" fill="#111"/><circle cx="470.1" cy="663.5" r="0.5" fill="#777"/>
<circle cx="506.5" cy="660.2" r="2.15" fill="#111"/><circle cx="506.5" cy="660.2" r="0.5" fill="#777"/>
<circle cx="523.8" cy="670" r="2.15" fill="#111"/><circle cx="523.8" cy="670" r="0.5" fill="#777"/>
<circle cx="506.5" cy="682.5" r="2.15" fill="#111"/><circle cx="506.5" cy="682.5" r="0.5" fill="#777"/>
<circle cx="523.9" cy="692.5" r="2.15" fill="#111"/><circle cx="523.9" cy="692.5" r="0.5" fill="#777"/>
<circle cx="411.9" cy="674.7" r="2.15" fill="#111"/><circle cx="411.9" cy="674.7" r="0.5" fill="#777"/>
<circle cx="404.3" cy="680.5" r="2.15" fill="#111"/><circle cx="404.3" cy="680.5" r="0.5" fill="#777"/>
<circle cx="416.5" cy="711.9" r="2.15" fill="#111"/><circle cx="416.5" cy="711.9" r="0.5" fill="#777"/>
<circle cx="467.5" cy="682.5" r="2.15" fill="#111"/><circle cx="467.5" cy="682.5" r="0.5" fill="#777"/>
<circle cx="485.1" cy="692.2" r="2.15" fill="#111"/><circle cx="485.1" cy="692.2" r="0.5" fill="#777"/>
<circle cx="493.8" cy="697.2" r="2.15" fill="#111"/><circle cx="493.8" cy="697.2" r="0.5" fill="#777"/>
<circle cx="511" cy="707.3" r="2.15" fill="#111"/><circle cx="511" cy="707.3" r="0.5" fill="#777"/>
<circle cx="429.1" cy="689.7" r="2.15" fill="#111"/><circle cx="429.1" cy="689.7" r="0.5" fill="#777"/>
<circle cx="446.3" cy="699.7" r="2.15" fill="#111"/><circle cx="446.3" cy="699.7" r="0.5" fill="#777"/>
<circle cx="429.1" cy="709.8" r="2.15" fill="#111"/><circle cx="429.1" cy="709.8" r="0.5" fill="#777"/>
<circle cx="446.3" cy="733.7" r="2.15" fill="#111"/><circle cx="446.3" cy="733.7" r="0.5" fill="#777"/>
<circle cx="455" cy="704.8" r="2.15" fill="#111"/><circle cx="455" cy="704.8" r="0.5" fill="#777"/>
<circle cx="472.2" cy="714.5" r="2.15" fill="#111"/><circle cx="472.2" cy="714.5" r="0.5" fill="#777"/>
<circle cx="455" cy="724.8" r="2.15" fill="#111"/><circle cx="455" cy="724.8" r="0.5" fill="#777"/>
<circle cx="472.2" cy="751.9" r="2.15" fill="#111"/><circle cx="472.2" cy="751.9" r="0.5" fill="#777"/>
<circle cx="480.9" cy="719.8" r="2.15" fill="#111"/><circle cx="480.9" cy="719.8" r="0.5" fill="#777"/>
<circle cx="498.1" cy="729.5" r="2.15" fill="#111"/><circle cx="498.1" cy="729.5" r="0.5" fill="#777"/>
<circle cx="480.9" cy="742" r="2.15" fill="#111"/><circle cx="480.9" cy="742" r="0.5" fill="#777"/>
<circle cx="498.1" cy="751.9" r="2.15" fill="#111"/><circle cx="498.1" cy="751.9" r="0.5" fill="#777"/>
<circle cx="483.4" cy="606.9" r="2.15" fill="#111"/><circle cx="483.4" cy="606.9" r="0.5" fill="#777"/>
<circle cx="483.4" cy="626.7" r="2.15" fill="#111"/><circle cx="483.4" cy="626.7" r="0.5" fill="#777"/>
<!-- part_hw -->
<g transform="translate(163 268.5)"><g fill="none" stroke="#1a1a1a" stroke-width="1.2" stroke-linejoin="round">
<path d="M-9.4 6L-10.1 0.5C-9.9 -2.5 -9.1 -4.5 -7.7 -5.9L-4 -9.6L0.4 -11.2L8.5 -6.5C9.6 -5.2 10 -3.6 9.8 -2L9.5 0.2" fill="#fff"/>
<path d="M-9.4 6L-7.1 8.3L-3.6 9.8C-1 11 1 11.3 2.4 10.5L5.2 8.9"/>
<path d="M-8.6 1.6L-3.6 4.4L1.2 -5.6L-2.2 -8.2" stroke="#555" stroke-width="0.8"/>
<path d="M-3.6 4.4L-3.6 9.6M1.2 -5.6L8.4 -4.6" stroke="#777" stroke-width="0.7"/>
<path d="M5.6 -2.4C2.4 -1.6 0.4 4 2 7.4" />
<path d="M5.6 -2.4L25.6 9.2M2 7.4L21 18.4"/>
<ellipse cx="23.3" cy="13.8" rx="2.9" ry="5.3" transform="rotate(28 23.3 13.8)"/>
<path d="M9.6 0C7 1.5 5.8 6 6.6 9.8M13 2C10.4 3.5 9.2 8 10 11.8M16.4 4C13.8 5.5 12.6 10 13.4 13.8M19.8 6C17.2 7.5 16 12 16.8 15.8" stroke="#888" stroke-width="0.7"/>
</g></g>
<g transform="translate(580.8 64.3) scale(-1 1)"><g fill="none" stroke="#1a1a1a" stroke-width="1.2" stroke-linejoin="round">
<path d="M-9.4 6L-10.1 0.5C-9.9 -2.5 -9.1 -4.5 -7.7 -5.9L-4 -9.6L0.4 -11.2L8.5 -6.5C9.6 -5.2 10 -3.6 9.8 -2L9.5 0.2" fill="#fff"/>
<path d="M-9.4 6L-7.1 8.3L-3.6 9.8C-1 11 1 11.3 2.4 10.5L5.2 8.9"/>
<path d="M-8.6 1.6L-3.6 4.4L1.2 -5.6L-2.2 -8.2" stroke="#555" stroke-width="0.8"/>
<path d="M-3.6 4.4L-3.6 9.6M1.2 -5.6L8.4 -4.6" stroke="#777" stroke-width="0.7"/>
<path d="M5.6 -2.4C2.4 -1.6 0.4 4 2 7.4" />
<path d="M5.6 -2.4L25.6 9.2M2 7.4L21 18.4"/>
<ellipse cx="23.3" cy="13.8" rx="2.9" ry="5.3" transform="rotate(28 23.3 13.8)"/>
<path d="M9.6 0C7 1.5 5.8 6 6.6 9.8M13 2C10.4 3.5 9.2 8 10 11.8M16.4 4C13.8 5.5 12.6 10 13.4 13.8M19.8 6C17.2 7.5 16 12 16.8 15.8" stroke="#888" stroke-width="0.7"/>
</g></g>
<g transform="translate(1080.2 80.6) scale(-1 1)"><g fill="none" stroke="#1a1a1a" stroke-width="1.2" stroke-linejoin="round">
<path d="M-9.4 6L-10.1 0.5C-9.9 -2.5 -9.1 -4.5 -7.7 -5.9L-4 -9.6L0.4 -11.2L8.5 -6.5C9.6 -5.2 10 -3.6 9.8 -2L9.5 0.2" fill="#fff"/>
<path d="M-9.4 6L-7.1 8.3L-3.6 9.8C-1 11 1 11.3 2.4 10.5L5.2 8.9"/>
<path d="M-8.6 1.6L-3.6 4.4L1.2 -5.6L-2.2 -8.2" stroke="#555" stroke-width="0.8"/>
<path d="M-3.6 4.4L-3.6 9.6M1.2 -5.6L8.4 -4.6" stroke="#777" stroke-width="0.7"/>
<path d="M5.6 -2.4C2.4 -1.6 0.4 4 2 7.4" />
<path d="M5.6 -2.4L25.6 9.2M2 7.4L21 18.4"/>
<ellipse cx="23.3" cy="13.8" rx="2.9" ry="5.3" transform="rotate(28 23.3 13.8)"/>
<path d="M9.6 0C7 1.5 5.8 6 6.6 9.8M13 2C10.4 3.5 9.2 8 10 11.8M16.4 4C13.8 5.5 12.6 10 13.4 13.8M19.8 6C17.2 7.5 16 12 16.8 15.8" stroke="#888" stroke-width="0.7"/>
</g></g>
<g transform="translate(206.8 290.8)"><g fill="none" stroke="#1a1a1a" transform="rotate(-62)">
<ellipse cx="-0.3" cy="0.5" rx="14.0" ry="7.9" stroke-width="1.2" fill="#fff"/>
<ellipse cx="0.5" cy="-0.7" rx="12.8" ry="6.5" stroke-width="0.9" stroke="#333"/>
<ellipse cx="0.5" cy="-0.4" rx="10.4" ry="4.7" stroke-width="2.0" stroke="#999" stroke-dasharray="0.7 1.1"/>
<ellipse cx="0.6" cy="0.2" rx="7.7" ry="2.9" stroke-width="1.2"/>
</g></g>
<g transform="translate(541.3 86.2) scale(-1 1)"><g fill="none" stroke="#1a1a1a" transform="rotate(-62)">
<ellipse cx="-0.3" cy="0.5" rx="14.0" ry="7.9" stroke-width="1.2" fill="#fff"/>
<ellipse cx="0.5" cy="-0.7" rx="12.8" ry="6.5" stroke-width="0.9" stroke="#333"/>
<ellipse cx="0.5" cy="-0.4" rx="10.4" ry="4.7" stroke-width="2.0" stroke="#999" stroke-dasharray="0.7 1.1"/>
<ellipse cx="0.6" cy="0.2" rx="7.7" ry="2.9" stroke-width="1.2"/>
</g></g>
<g transform="translate(1040.9 102.5) scale(-1 1)"><g fill="none" stroke="#1a1a1a" transform="rotate(-62)">
<ellipse cx="-0.3" cy="0.5" rx="14.0" ry="7.9" stroke-width="1.2" fill="#fff"/>
<ellipse cx="0.5" cy="-0.7" rx="12.8" ry="6.5" stroke-width="0.9" stroke="#333"/>
<ellipse cx="0.5" cy="-0.4" rx="10.4" ry="4.7" stroke-width="2.0" stroke="#999" stroke-dasharray="0.7 1.1"/>
<ellipse cx="0.6" cy="0.2" rx="7.7" ry="2.9" stroke-width="1.2"/>
</g></g>
<!-- part_labels -->
<line x1="371.3" y1="88.8" x2="348.8" y2="102.5" stroke="#333" stroke-width="1.25"/>
<text x="383.4" y="90.5" font-size="18" fill="#111" stroke="#111" stroke-width="0.3" text-anchor="middle">25</text>
<line x1="387.5" y1="113" x2="365" y2="125.5" stroke="#333" stroke-width="1.25"/>
<text x="398.8" y="115.5" font-size="18" fill="#111" stroke="#111" stroke-width="0.3" text-anchor="middle">25</text>
<line x1="403.8" y1="144.5" x2="381.3" y2="157" stroke="#333" stroke-width="1.25"/>
<text x="415.6" y="147" font-size="18" fill="#111" stroke="#111" stroke-width="0.3" text-anchor="middle">25</text>
<line x1="420" y1="173.8" x2="397.5" y2="186.3" stroke="#333" stroke-width="1.25"/>
<text x="431.9" y="175" font-size="18" fill="#111" stroke="#111" stroke-width="0.3" text-anchor="middle">25</text>
<line x1="431.3" y1="190.5" x2="407.5" y2="204.5" stroke="#333" stroke-width="1.25"/>
<text x="443.6" y="195" font-size="18" fill="#111" stroke="#111" stroke-width="0.3" text-anchor="middle">26</text>
<line x1="418.8" y1="218.8" x2="395" y2="233" stroke="#333" stroke-width="1.25"/>
<text x="430.6" y="221.3" font-size="18" fill="#111" stroke="#111" stroke-width="0.3" text-anchor="middle">27</text>
<line x1="421.3" y1="247" x2="397.5" y2="261" stroke="#333" stroke-width="1.25"/>
<text x="432.9" y="249.5" font-size="18" fill="#111" stroke="#111" stroke-width="0.3" text-anchor="middle">27</text>
<line x1="433" y1="289.5" x2="409.5" y2="303.3" stroke="#333" stroke-width="1.25"/>
<text x="444.6" y="291.2" font-size="18" fill="#111" stroke="#111" stroke-width="0.3" text-anchor="middle">27</text>
<line x1="189.3" y1="183.3" x2="216.3" y2="181.3" stroke="#333" stroke-width="1.25"/>
<text x="174.9" y="191.3" font-size="18" fill="#111" stroke="#111" stroke-width="0.3" text-anchor="middle">25</text>
<line x1="205" y1="207.5" x2="232" y2="205.5" stroke="#333" stroke-width="1.25"/>
<text x="190.6" y="215" font-size="18" fill="#111" stroke="#111" stroke-width="0.3" text-anchor="middle">25</text>
<line x1="225" y1="236.3" x2="252" y2="233.8" stroke="#333" stroke-width="1.25"/>
<text x="210.6" y="243.8" font-size="18" fill="#111" stroke="#111" stroke-width="0.3" text-anchor="middle">25</text>
<line x1="245" y1="262.5" x2="270.8" y2="261.3" stroke="#333" stroke-width="1.25"/>
<text x="230.9" y="270.3" font-size="18" fill="#111" stroke="#111" stroke-width="0.3" text-anchor="middle">25</text>
<line x1="248.3" y1="285" x2="274.3" y2="284.3" stroke="#333" stroke-width="1.25"/>
<text x="236.2" y="293.5" font-size="18" fill="#111" stroke="#111" stroke-width="0.3" text-anchor="middle">26</text>
<line x1="254.7" y1="318.5" x2="276" y2="302.5" stroke="#333" stroke-width="1.25"/>
<text x="242.1" y="326.5" font-size="18" fill="#111" stroke="#111" stroke-width="0.3" text-anchor="middle">27</text>
<line x1="256.3" y1="358.7" x2="277.7" y2="342" stroke="#333" stroke-width="1.25"/>
<text x="243.2" y="366.2" font-size="18" fill="#111" stroke="#111" stroke-width="0.3" text-anchor="middle">27</text>
<line x1="269.3" y1="395.2" x2="290.5" y2="378.8" stroke="#333" stroke-width="1.25"/>
<text x="256.3" y="403.6" font-size="18" fill="#111" stroke="#111" stroke-width="0.3" text-anchor="middle">27</text>
<line x1="79.7" y1="275" x2="79.7" y2="291" stroke="#333" stroke-width="1.25"/>
<text x="79.8" y="270.9" font-size="18" fill="#111" stroke="#111" stroke-width="0.3" text-anchor="middle">13</text>
<line x1="157.6" y1="276" x2="157.6" y2="298.5" stroke="#333" stroke-width="1.25"/>
<text x="157.8" y="315.8" font-size="18" fill="#111" stroke="#111" stroke-width="0.3" text-anchor="middle">30</text>
<line x1="204.4" y1="300.2" x2="204.4" y2="317.7" stroke="#333" stroke-width="1.25"/>
<text x="205.1" y="334.4" font-size="18" fill="#111" stroke="#111" stroke-width="0.3" text-anchor="middle">28</text>
<line x1="55.6" y1="350.3" x2="73.8" y2="350.3" stroke="#333" stroke-width="1.25"/>
<text x="43" y="356.2" font-size="18" fill="#111" stroke="#111" stroke-width="0.3" text-anchor="middle">14</text>
<line x1="145.4" y1="338.6" x2="117" y2="343.3" stroke="#333" stroke-width="1.25"/>
<text x="156.8" y="344.2" font-size="18" fill="#111" stroke="#111" stroke-width="0.3" text-anchor="middle">12</text>
<line x1="65.9" y1="377.6" x2="108.4" y2="368.6" stroke="#333" stroke-width="1.25"/>
<text x="53.8" y="384.6" font-size="18" fill="#111" stroke="#111" stroke-width="0.3" text-anchor="middle">10</text>
<line x1="166.3" y1="381.2" x2="137.8" y2="385.4" stroke="#333" stroke-width="1.25"/>
<text x="177.5" y="384.5" font-size="18" fill="#111" stroke="#111" stroke-width="0.3" text-anchor="middle">12</text>
<line x1="82.6" y1="402" x2="101" y2="390.9" stroke="#333" stroke-width="1.25"/>
<text x="70" y="410.6" font-size="18" fill="#111" stroke="#111" stroke-width="0.3" text-anchor="middle">15</text>
<line x1="190.4" y1="411.7" x2="162.8" y2="415.9" stroke="#333" stroke-width="1.25"/>
<text x="204.8" y="416.3" font-size="18" fill="#111" stroke="#111" stroke-width="0.3" text-anchor="middle">12</text>
<line x1="101" y1="430.6" x2="137.8" y2="411.7" stroke="#333" stroke-width="1.25"/>
<text x="88.7" y="438.5" font-size="18" fill="#111" stroke="#111" stroke-width="0.3" text-anchor="middle">10</text>
<line x1="116" y1="452.7" x2="137.8" y2="439.8" stroke="#333" stroke-width="1.25"/>
<text x="103.6" y="458.9" font-size="18" fill="#111" stroke="#111" stroke-width="0.3" text-anchor="middle">16</text>
<line x1="116.9" y1="499.5" x2="138.6" y2="487" stroke="#333" stroke-width="1.25"/>
<text x="104.8" y="504.6" font-size="18" fill="#111" stroke="#111" stroke-width="0.3" text-anchor="middle">17</text>
<line x1="207.2" y1="449.4" x2="178.6" y2="453.7" stroke="#333" stroke-width="1.25"/>
<text x="218.9" y="453.9" font-size="18" fill="#111" stroke="#111" stroke-width="0.3" text-anchor="middle">11</text>
<line x1="208.8" y1="466.9" x2="178.6" y2="472.2" stroke="#333" stroke-width="1.25"/>
<text x="218.9" y="473.6" font-size="18" fill="#111" stroke="#111" stroke-width="0.3" text-anchor="middle">11</text>
<line x1="208" y1="489.5" x2="179" y2="494.5" stroke="#333" stroke-width="1.25"/>
<text x="218.9" y="495" font-size="18" fill="#111" stroke="#111" stroke-width="0.3" text-anchor="middle">10</text>
<line x1="207.2" y1="512.6" x2="179" y2="517.2" stroke="#333" stroke-width="1.25"/>
<text x="218.9" y="517.5" font-size="18" fill="#111" stroke="#111" stroke-width="0.3" text-anchor="middle">10</text>
<line x1="121" y1="536" x2="143.5" y2="523.4" stroke="#333" stroke-width="1.25"/>
<text x="108.2" y="544.8" font-size="18" fill="#111" stroke="#111" stroke-width="0.3" text-anchor="middle">18</text>
<line x1="138.5" y1="573.1" x2="163.1" y2="551.5" stroke="#333" stroke-width="1.25"/>
<line x1="138.5" y1="573.1" x2="184.5" y2="578.6" stroke="#333" stroke-width="1.25"/>
<text x="126.7" y="579.5" font-size="18" fill="#111" stroke="#111" stroke-width="0.3" text-anchor="middle">10</text>
<line x1="143.2" y1="606.2" x2="165.6" y2="593.7" stroke="#333" stroke-width="1.25"/>
<text x="130.4" y="614.6" font-size="18" fill="#111" stroke="#111" stroke-width="0.3" text-anchor="middle">19</text>
<line x1="232.4" y1="537.2" x2="216" y2="581" stroke="#333" stroke-width="1.25"/>
<text x="235.8" y="535" font-size="18" fill="#111" stroke="#111" stroke-width="0.3" text-anchor="middle">10</text>
<line x1="234" y1="537.2" x2="234" y2="556.8" stroke="#111" stroke-width="1.8"/>
<line x1="258.7" y1="549.8" x2="258.7" y2="570.2" stroke="#333" stroke-width="1.25"/>
<line x1="257.5" y1="549.8" x2="239.9" y2="595.3" stroke="#333" stroke-width="1.25"/>
<text x="258.9" y="546.4" font-size="18" fill="#111" stroke="#111" stroke-width="0.3" text-anchor="middle">10</text>
<line x1="286.6" y1="568.2" x2="286.6" y2="588.6" stroke="#333" stroke-width="1.25"/>
<line x1="285.5" y1="568.2" x2="267.6" y2="613.6" stroke="#333" stroke-width="1.25"/>
<text x="286.8" y="564.8" font-size="18" fill="#111" stroke="#111" stroke-width="0.3" text-anchor="middle">10</text>
<line x1="313.9" y1="584.4" x2="313.9" y2="604.4" stroke="#333" stroke-width="1.25"/>
<text x="314.3" y="579.7" font-size="18" fill="#111" stroke="#111" stroke-width="0.3" text-anchor="middle">10</text>
<line x1="337.3" y1="621" x2="248.7" y2="630.9" stroke="#333" stroke-width="1.25"/>
<line x1="337.3" y1="621" x2="278" y2="647.8" stroke="#333" stroke-width="1.25"/>
<text x="347.4" y="626.4" font-size="18" fill="#111" stroke="#111" stroke-width="0.3" text-anchor="middle">11</text>
<line x1="331.4" y1="654.4" x2="310.5" y2="643.2" stroke="#333" stroke-width="1.25"/>
<text x="345.4" y="663.6" font-size="18" fill="#111" stroke="#111" stroke-width="0.3" text-anchor="middle">10</text>
<line x1="170.4" y1="642.1" x2="192.7" y2="629.5" stroke="#333" stroke-width="1.25"/>
<text x="157" y="651" font-size="18" fill="#111" stroke="#111" stroke-width="0.3" text-anchor="middle">20</text>
<line x1="195.2" y1="659.4" x2="216.9" y2="646.9" stroke="#333" stroke-width="1.25"/>
<text x="181.4" y="668.9" font-size="18" fill="#111" stroke="#111" stroke-width="0.3" text-anchor="middle">21</text>
<line x1="222.7" y1="677.8" x2="244.8" y2="665.3" stroke="#333" stroke-width="1.25"/>
<text x="208.1" y="687.5" font-size="18" fill="#111" stroke="#111" stroke-width="0.3" text-anchor="middle">22</text>
<line x1="251.5" y1="697.9" x2="273.7" y2="685.3" stroke="#333" stroke-width="1.25"/>
<text x="238.2" y="706.2" font-size="18" fill="#111" stroke="#111" stroke-width="0.3" text-anchor="middle">23</text>
<line x1="274.6" y1="715.1" x2="296.8" y2="702.5" stroke="#333" stroke-width="1.25"/>
<text x="261.4" y="723.4" font-size="18" fill="#111" stroke="#111" stroke-width="0.3" text-anchor="middle">24</text>
<line x1="579.8" y1="35" x2="579.8" y2="53.8" stroke="#333" stroke-width="1.25"/>
<text x="578.6" y="31.3" font-size="18" fill="#111" stroke="#111" stroke-width="0.3" text-anchor="middle">29</text>
<line x1="541" y1="59.3" x2="541" y2="81" stroke="#333" stroke-width="1.25"/>
<text x="540.2" y="55" font-size="18" fill="#111" stroke="#111" stroke-width="0.3" text-anchor="middle">28</text>
<line x1="506.7" y1="76.5" x2="506.7" y2="92.5" stroke="#333" stroke-width="1.25"/>
<text x="507.2" y="72.4" font-size="18" fill="#111" stroke="#111" stroke-width="0.3" text-anchor="middle">13</text>
<line x1="482.8" y1="132" x2="501.8" y2="132" stroke="#333" stroke-width="1.25"/>
<text x="470.8" y="138.3" font-size="18" fill="#111" stroke="#111" stroke-width="0.3" text-anchor="middle">14</text>
<line x1="574.5" y1="132.8" x2="545.5" y2="137.1" stroke="#333" stroke-width="1.25"/>
<text x="586.7" y="135.3" font-size="18" fill="#111" stroke="#111" stroke-width="0.3" text-anchor="middle">12</text>
<line x1="491.3" y1="173" x2="533.4" y2="164.2" stroke="#333" stroke-width="1.25"/>
<text x="479.2" y="180.6" font-size="18" fill="#111" stroke="#111" stroke-width="0.3" text-anchor="middle">10</text>
<line x1="596.5" y1="172.6" x2="568.9" y2="177.1" stroke="#333" stroke-width="1.25"/>
<text x="608" y="178.4" font-size="18" fill="#111" stroke="#111" stroke-width="0.3" text-anchor="middle">12</text>
<line x1="513.8" y1="201.8" x2="535.9" y2="188.8" stroke="#333" stroke-width="1.25"/>
<text x="501.3" y="209.6" font-size="18" fill="#111" stroke="#111" stroke-width="0.3" text-anchor="middle">15</text>
<line x1="618.2" y1="205.6" x2="590.7" y2="210.1" stroke="#333" stroke-width="1.25"/>
<text x="630.6" y="210.8" font-size="18" fill="#111" stroke="#111" stroke-width="0.3" text-anchor="middle">12</text>
<line x1="527.6" y1="228.9" x2="564.4" y2="210.1" stroke="#333" stroke-width="1.25"/>
<text x="515" y="236.6" font-size="18" fill="#111" stroke="#111" stroke-width="0.3" text-anchor="middle">10</text>
<line x1="545.1" y1="250.7" x2="567.7" y2="237.6" stroke="#333" stroke-width="1.25"/>
<text x="531.6" y="258.7" font-size="18" fill="#111" stroke="#111" stroke-width="0.3" text-anchor="middle">16</text>
<line x1="635.3" y1="249.6" x2="606.6" y2="254.1" stroke="#333" stroke-width="1.25"/>
<text x="647.8" y="253.2" font-size="18" fill="#111" stroke="#111" stroke-width="0.3" text-anchor="middle">11</text>
<line x1="637.8" y1="266.4" x2="606.6" y2="271.6" stroke="#333" stroke-width="1.25"/>
<text x="647.8" y="272.7" font-size="18" fill="#111" stroke="#111" stroke-width="0.3" text-anchor="middle">11</text>
<line x1="635.3" y1="287.7" x2="607" y2="292.2" stroke="#333" stroke-width="1.25"/>
<text x="648.5" y="293.2" font-size="18" fill="#111" stroke="#111" stroke-width="0.3" text-anchor="middle">10</text>
<line x1="636.5" y1="308.5" x2="607.7" y2="312.7" stroke="#333" stroke-width="1.25"/>
<text x="648.5" y="314" font-size="18" fill="#111" stroke="#111" stroke-width="0.3" text-anchor="middle">10</text>
<line x1="543.9" y1="296.5" x2="566.4" y2="284" stroke="#333" stroke-width="1.25"/>
<text x="531.1" y="304.7" font-size="18" fill="#111" stroke="#111" stroke-width="0.3" text-anchor="middle">17</text>
<line x1="549.8" y1="333.9" x2="572" y2="321.4" stroke="#333" stroke-width="1.25"/>
<text x="536.9" y="342" font-size="18" fill="#111" stroke="#111" stroke-width="0.3" text-anchor="middle">18</text>
<line x1="564.4" y1="368.8" x2="588.9" y2="347.6" stroke="#333" stroke-width="1.25"/>
<line x1="564.4" y1="368.8" x2="612.7" y2="377.1" stroke="#333" stroke-width="1.25"/>
<text x="551.6" y="376.3" font-size="18" fill="#111" stroke="#111" stroke-width="0.3" text-anchor="middle">10</text>
<line x1="572.1" y1="408.4" x2="594.7" y2="395.9" stroke="#333" stroke-width="1.25"/>
<text x="559.9" y="416.9" font-size="18" fill="#111" stroke="#111" stroke-width="0.3" text-anchor="middle">19</text>
<line x1="603.9" y1="441" x2="626" y2="428.4" stroke="#333" stroke-width="1.25"/>
<text x="590.1" y="449.7" font-size="18" fill="#111" stroke="#111" stroke-width="0.3" text-anchor="middle">20</text>
<line x1="626" y1="457" x2="648.2" y2="444.5" stroke="#333" stroke-width="1.25"/>
<text x="612.7" y="466.5" font-size="18" fill="#111" stroke="#111" stroke-width="0.3" text-anchor="middle">21</text>
<line x1="650.2" y1="474" x2="672.3" y2="461" stroke="#333" stroke-width="1.25"/>
<text x="635.9" y="484" font-size="18" fill="#111" stroke="#111" stroke-width="0.3" text-anchor="middle">22</text>
<line x1="676" y1="490.3" x2="697.8" y2="477.3" stroke="#333" stroke-width="1.25"/>
<text x="662.1" y="499" font-size="18" fill="#111" stroke="#111" stroke-width="0.3" text-anchor="middle">23</text>
<line x1="702.8" y1="507.8" x2="723.3" y2="496.5" stroke="#333" stroke-width="1.25"/>
<text x="687.2" y="516.6" font-size="18" fill="#111" stroke="#111" stroke-width="0.3" text-anchor="middle">24</text>
<line x1="661.4" y1="334.2" x2="644" y2="377.6" stroke="#333" stroke-width="1.25"/>
<text x="664.5" y="332" font-size="18" fill="#111" stroke="#111" stroke-width="0.3" text-anchor="middle">10</text>
<line x1="662.5" y1="334.2" x2="662.5" y2="353.8" stroke="#111" stroke-width="1.8"/>
<line x1="687.2" y1="347.4" x2="687.2" y2="366.3" stroke="#333" stroke-width="1.25"/>
<line x1="686" y1="347.4" x2="669" y2="391.4" stroke="#333" stroke-width="1.25"/>
<text x="689.2" y="345.4" font-size="18" fill="#111" stroke="#111" stroke-width="0.3" text-anchor="middle">10</text>
<line x1="715.3" y1="365" x2="715.3" y2="385" stroke="#333" stroke-width="1.25"/>
<line x1="714.1" y1="365" x2="696.6" y2="410.2" stroke="#333" stroke-width="1.25"/>
<text x="715.7" y="361.8" font-size="18" fill="#111" stroke="#111" stroke-width="0.3" text-anchor="middle">10</text>
<line x1="715.3" y1="365" x2="715.3" y2="385" stroke="#111" stroke-width="1.5"/>
<line x1="742.4" y1="381.4" x2="742.4" y2="401.4" stroke="#333" stroke-width="1.25"/>
<text x="743.1" y="377.6" font-size="18" fill="#111" stroke="#111" stroke-width="0.3" text-anchor="middle">10</text>
<line x1="762.4" y1="413.9" x2="674" y2="423.9" stroke="#333" stroke-width="1.25"/>
<line x1="762.4" y1="413.9" x2="702.8" y2="440.7" stroke="#333" stroke-width="1.25"/>
<text x="772.7" y="420.2" font-size="18" fill="#111" stroke="#111" stroke-width="0.3" text-anchor="middle">11</text>
<line x1="760.4" y1="457.7" x2="738.6" y2="445.2" stroke="#333" stroke-width="1.25"/>
<text x="773.9" y="466.5" font-size="18" fill="#111" stroke="#111" stroke-width="0.3" text-anchor="middle">10</text>
<line x1="876.4" y1="226.3" x2="837.6" y2="249.3" stroke="#333" stroke-width="1.25"/>
<text x="886.2" y="231.3" font-size="18" fill="#111" stroke="#111" stroke-width="0.3" text-anchor="middle">4</text>
<line x1="956.5" y1="263.8" x2="915.2" y2="287.6" stroke="#333" stroke-width="1.25"/>
<text x="964.4" y="269.4" font-size="18" fill="#111" stroke="#111" stroke-width="0.3" text-anchor="middle">5</text>
<line x1="972.3" y1="296.4" x2="927.7" y2="323.4" stroke="#333" stroke-width="1.25"/>
<line x1="972.3" y1="296.4" x2="938.3" y2="345.2" stroke="#333" stroke-width="1.25"/>
<text x="980.1" y="295.6" font-size="18" fill="#111" stroke="#111" stroke-width="0.3" text-anchor="middle">2</text>
<line x1="999.8" y1="314.1" x2="959" y2="337.4" stroke="#333" stroke-width="1.25"/>
<text x="1007.5" y="319" font-size="18" fill="#111" stroke="#111" stroke-width="0.3" text-anchor="middle">6</text>
<line x1="1015.8" y1="333.6" x2="983.8" y2="352" stroke="#333" stroke-width="1.25"/>
<text x="1023.9" y="338.1" font-size="18" fill="#111" stroke="#111" stroke-width="0.3" text-anchor="middle">2</text>
<line x1="1036.6" y1="368.6" x2="1006.6" y2="385.2" stroke="#333" stroke-width="1.25"/>
<text x="1043.4" y="372.9" font-size="18" fill="#111" stroke="#111" stroke-width="0.3" text-anchor="middle">3</text>
<line x1="792.5" y1="293.1" x2="823.8" y2="274.4" stroke="#333" stroke-width="1.25"/>
<text x="785.6" y="301.2" font-size="18" fill="#111" stroke="#111" stroke-width="0.3" text-anchor="middle">3</text>
<line x1="813.8" y1="320.1" x2="844.6" y2="302" stroke="#333" stroke-width="1.25"/>
<line x1="813.8" y1="320.1" x2="883.9" y2="315.8" stroke="#333" stroke-width="1.25"/>
<text x="807" y="329" font-size="18" fill="#111" stroke="#111" stroke-width="0.3" text-anchor="middle">1</text>
<path d="M819.8 323.8C819.6 326.0 819.0 328.9 818.4 330.8C817.8 332.7 817.2 334.2 816.1 335.3C815.1 336.4 814.0 337.2 812.1 337.5C810.1 337.8 806.7 337.6 804.5 337.1C802.3 336.6 800.4 335.6 798.9 334.4C797.5 333.3 796.5 331.8 795.9 330.1C795.4 328.3 795.6 325.8 795.8 323.8C796.0 321.7 796.6 319.4 797.2 317.9C797.8 316.3 798.4 315.3 799.5 314.4C800.5 313.5 801.6 312.8 803.5 312.4C805.5 312.0 808.9 311.9 811.1 312.0C813.3 312.2 815.2 312.7 816.7 313.5C818.1 314.4 819.1 315.4 819.7 317.2C820.2 318.9 820.0 321.5 819.8 323.8" fill="none" stroke="#f5141e" stroke-width="1"/>
<line x1="829.5" y1="355.8" x2="861" y2="337.4" stroke="#333" stroke-width="1.25"/>
<text x="822.2" y="364.8" font-size="18" fill="#111" stroke="#111" stroke-width="0.3" text-anchor="middle">3</text>
<line x1="849.4" y1="386.6" x2="881.4" y2="369.2" stroke="#333" stroke-width="1.25"/>
<line x1="849.4" y1="386.6" x2="920" y2="383.3" stroke="#333" stroke-width="1.25"/>
<text x="841.7" y="394.4" font-size="18" fill="#111" stroke="#111" stroke-width="0.3" text-anchor="middle">1</text>
<path d="M853.7 388.7C853.5 391.4 852.8 394.6 852.0 396.6C851.2 398.7 850.4 400.1 849.0 401.2C847.7 402.3 846.4 402.9 844.1 403.1C841.8 403.3 837.8 403.1 835.2 402.6C832.6 402.0 830.3 401.1 828.6 400.0C826.9 398.8 825.6 397.5 824.9 395.6C824.2 393.8 824.3 391.0 824.5 388.7C824.7 386.3 825.4 383.5 826.2 381.5C827.0 379.5 827.8 378.0 829.2 376.7C830.5 375.4 831.8 374.3 834.1 373.7C836.4 373.1 840.4 372.9 843.0 373.2C845.6 373.5 847.9 374.2 849.6 375.5C851.3 376.7 852.6 378.3 853.3 380.5C854.0 382.7 853.9 386.0 853.7 388.7" fill="none" stroke="#f5141e" stroke-width="1"/>
<line x1="865.1" y1="418.9" x2="897.2" y2="401.4" stroke="#333" stroke-width="1.25"/>
<text x="858.2" y="428.2" font-size="18" fill="#111" stroke="#111" stroke-width="0.3" text-anchor="middle">3</text>
<line x1="885.1" y1="451.5" x2="917.2" y2="434" stroke="#333" stroke-width="1.25"/>
<line x1="885.1" y1="451.5" x2="955.7" y2="448.2" stroke="#333" stroke-width="1.25"/>
<text x="880.1" y="459" font-size="18" fill="#111" stroke="#111" stroke-width="0.3" text-anchor="middle">1</text>
<path d="M891.7 454.1C891.5 456.4 890.6 459.2 889.6 461.2C888.6 463.2 887.4 464.7 885.9 465.9C884.4 467.2 883.0 468.3 880.8 468.9C878.5 469.5 874.7 469.7 872.2 469.4C869.7 469.2 867.4 468.4 865.6 467.2C863.8 466.0 862.1 464.4 861.2 462.2C860.3 460.0 860.1 456.8 860.3 454.1C860.5 451.4 861.4 448.3 862.4 446.3C863.4 444.2 864.6 442.8 866.1 441.8C867.6 440.7 869.0 440.1 871.2 439.9C873.5 439.7 877.3 439.9 879.8 440.4C882.3 441.0 884.6 441.9 886.4 443.0C888.2 444.1 889.9 445.4 890.8 447.2C891.7 449.1 891.9 451.8 891.7 454.1" fill="none" stroke="#f5141e" stroke-width="1"/>
<line x1="886.3" y1="488.8" x2="916.4" y2="471.8" stroke="#333" stroke-width="1.25"/>
<line x1="886.3" y1="488.8" x2="954.4" y2="485.8" stroke="#333" stroke-width="1.25"/>
<text x="879.8" y="496" font-size="18" fill="#111" stroke="#111" stroke-width="0.3" text-anchor="middle">1</text>
<path d="M892.2 490.8C892.0 493.1 891.5 495.9 890.9 497.4C890.3 498.9 889.8 499.1 888.6 499.7C887.5 500.2 886.9 500.4 883.9 500.6C881.0 500.7 874.1 500.8 870.9 500.6C867.7 500.5 866.2 500.2 864.6 499.7C863.1 499.2 862.2 498.9 861.7 497.4C861.2 495.9 861.4 493.1 861.6 490.8C861.8 488.5 862.3 485.5 862.9 483.7C863.5 481.9 864.0 481.1 865.2 480.2C866.3 479.3 866.9 478.6 869.9 478.3C872.8 478.0 879.7 478.0 882.9 478.3C886.1 478.7 887.6 479.3 889.2 480.2C890.7 481.1 891.6 481.9 892.1 483.7C892.6 485.5 892.4 488.5 892.2 490.8" fill="none" stroke="#f5141e" stroke-width="1"/>
<line x1="897.1" y1="520.6" x2="928.9" y2="503.1" stroke="#333" stroke-width="1.25"/>
<text x="889.8" y="530.1" font-size="18" fill="#111" stroke="#111" stroke-width="0.3" text-anchor="middle">2</text>
<line x1="931.4" y1="542.2" x2="962.7" y2="523.9" stroke="#333" stroke-width="1.25"/>
<line x1="931.4" y1="542.2" x2="969.5" y2="550.9" stroke="#333" stroke-width="1.25"/>
<text x="923.6" y="551.2" font-size="18" fill="#111" stroke="#111" stroke-width="0.3" text-anchor="middle">2</text>
<line x1="950.9" y1="579.5" x2="1000.3" y2="521.4" stroke="#333" stroke-width="1.25"/>
<line x1="950.9" y1="579.5" x2="1044.6" y2="547.7" stroke="#333" stroke-width="1.25"/>
<text x="941.9" y="589.5" font-size="18" fill="#111" stroke="#111" stroke-width="0.3" text-anchor="middle">2</text>
<line x1="1004.6" y1="590" x2="1004.6" y2="614.5" stroke="#333" stroke-width="1.25"/>
<text x="1003" y="631" font-size="18" fill="#111" stroke="#111" stroke-width="0.3" text-anchor="middle">2</text>
<line x1="1039.4" y1="610.1" x2="1039.4" y2="633.9" stroke="#333" stroke-width="1.25"/>
<text x="1038.1" y="650.1" font-size="18" fill="#111" stroke="#111" stroke-width="0.3" text-anchor="middle">2</text>
<line x1="1077.2" y1="631.4" x2="1077.2" y2="655.1" stroke="#333" stroke-width="1.25"/>
<text x="1077.9" y="673.2" font-size="18" fill="#111" stroke="#111" stroke-width="0.3" text-anchor="middle">1</text>
<path d="M1095.2 671.8C1095.4 674.8 1094.7 678.1 1093.4 680.6C1092.1 683.1 1089.8 685.2 1087.4 686.7C1085.0 688.2 1082.1 689.2 1079.3 689.6C1076.5 690.0 1073.2 689.8 1070.6 689.1C1068.0 688.5 1065.7 687.2 1063.6 685.6C1061.5 684.1 1059.4 682.0 1058.0 679.7C1056.7 677.4 1055.5 674.5 1055.4 671.8C1055.2 669.1 1055.9 666.1 1057.2 663.6C1058.5 661.1 1060.8 658.7 1063.2 657.0C1065.6 655.2 1068.5 653.7 1071.3 652.9C1074.1 652.1 1077.4 651.9 1080.0 652.4C1082.6 652.9 1084.9 654.2 1087.0 655.9C1089.1 657.6 1091.2 660.1 1092.6 662.7C1093.9 665.4 1095.1 668.9 1095.2 671.8" fill="none" stroke="#f5141e" stroke-width="1"/>
<line x1="1050.4" y1="398.2" x2="981.5" y2="405.2" stroke="#333" stroke-width="1.25"/>
<line x1="1050.4" y1="398.2" x2="1019.1" y2="415.9" stroke="#333" stroke-width="1.25"/>
<text x="1058.7" y="401.9" font-size="18" fill="#111" stroke="#111" stroke-width="0.3" text-anchor="middle">1</text>
<path d="M1071.4 395.8C1071.3 398.0 1071.1 400.5 1070.6 402.2C1070.1 403.8 1069.7 404.9 1068.6 405.7C1067.5 406.5 1066.1 406.9 1064.0 407.1C1062.0 407.3 1058.3 407.1 1056.2 406.8C1054.0 406.4 1052.2 405.8 1051.0 404.9C1049.7 404.0 1049.1 403.0 1048.7 401.5C1048.3 400.0 1048.4 397.8 1048.4 395.8C1048.5 393.8 1048.7 391.3 1049.2 389.6C1049.7 387.8 1050.1 386.4 1051.2 385.3C1052.3 384.1 1053.7 383.1 1055.8 382.6C1057.8 382.1 1061.5 382.0 1063.6 382.3C1065.8 382.6 1067.6 383.3 1068.8 384.5C1070.1 385.6 1070.7 387.0 1071.1 388.9C1071.5 390.8 1071.4 393.6 1071.4 395.8" fill="none" stroke="#f5141e" stroke-width="1"/>
<line x1="1070.9" y1="431" x2="1041.1" y2="448.2" stroke="#333" stroke-width="1.25"/>
<text x="1077.9" y="436" font-size="18" fill="#111" stroke="#111" stroke-width="0.3" text-anchor="middle">3</text>
<line x1="1084.2" y1="459.2" x2="1017.3" y2="466.4" stroke="#333" stroke-width="1.25"/>
<text x="1091.9" y="464.4" font-size="18" fill="#111" stroke="#111" stroke-width="0.3" text-anchor="middle">1</text>
<path d="M1107.3 458.8C1107.3 461.1 1106.9 463.8 1106.1 465.3C1105.4 466.9 1104.0 467.5 1102.7 468.1C1101.4 468.8 1100.2 469.0 1098.1 469.2C1096.1 469.3 1092.4 469.2 1090.5 468.9C1088.6 468.6 1087.7 468.2 1086.5 467.5C1085.3 466.8 1084.1 466.3 1083.3 464.8C1082.5 463.4 1081.8 460.9 1081.7 458.8C1081.7 456.8 1082.1 454.1 1082.9 452.4C1083.6 450.7 1085.0 449.6 1086.3 448.6C1087.6 447.6 1088.8 446.8 1090.9 446.4C1092.9 446.0 1096.6 445.8 1098.5 446.1C1100.4 446.4 1101.3 447.0 1102.5 448.0C1103.7 448.9 1104.9 450.1 1105.7 451.9C1106.5 453.7 1107.2 456.6 1107.3 458.8" fill="none" stroke="#f5141e" stroke-width="1"/>
<line x1="1125.4" y1="506.3" x2="1053.6" y2="488.8" stroke="#333" stroke-width="1.25"/>
<line x1="1125.4" y1="506.3" x2="1095.4" y2="511.9" stroke="#333" stroke-width="1.25"/>
<text x="1133.3" y="512" font-size="18" fill="#111" stroke="#111" stroke-width="0.3" text-anchor="middle">1</text>
<path d="M1143.5 504.6C1143.6 506.3 1143.4 508.5 1142.7 510.1C1142.0 511.7 1140.6 513.0 1139.2 514.0C1137.8 515.1 1136.1 516.0 1134.3 516.5C1132.5 516.9 1129.9 517.1 1128.3 516.8C1126.7 516.6 1125.8 515.9 1124.7 514.9C1123.6 513.9 1122.5 512.5 1121.7 510.8C1120.9 509.1 1120.1 506.6 1119.9 504.6C1119.8 502.5 1120.0 500.2 1120.7 498.7C1121.4 497.2 1122.8 496.3 1124.2 495.5C1125.6 494.8 1127.3 494.5 1129.1 494.3C1130.9 494.2 1133.5 494.4 1135.1 494.7C1136.7 495.1 1137.6 495.6 1138.7 496.4C1139.8 497.2 1140.9 498.1 1141.7 499.4C1142.5 500.8 1143.3 502.8 1143.5 504.6" fill="none" stroke="#f5141e" stroke-width="1"/>
<line x1="1128" y1="494.2" x2="1133" y2="493.2" stroke="#f5141e" stroke-width="1.1"/>
<line x1="1124.2" y1="528.1" x2="1031" y2="525.1" stroke="#333" stroke-width="1.25"/>
<text x="1132.7" y="533.7" font-size="18" fill="#111" stroke="#111" stroke-width="0.3" text-anchor="middle">7</text>
<line x1="1125.4" y1="560.2" x2="1095.9" y2="565.2" stroke="#333" stroke-width="1.25"/>
<text x="1133.2" y="566.4" font-size="18" fill="#111" stroke="#111" stroke-width="0.3" text-anchor="middle">1</text>
<path d="M1148.3 558.4C1148.1 560.9 1147.1 563.7 1146.1 565.8C1145.1 567.8 1143.7 569.6 1142.2 570.8C1140.7 572.1 1139.2 572.8 1137.3 573.1C1135.4 573.4 1133.0 573.2 1130.8 572.6C1128.7 572.0 1126.3 570.9 1124.5 569.6C1122.6 568.3 1120.8 566.6 1119.9 564.8C1119.0 562.9 1118.7 560.6 1118.9 558.4C1119.1 556.3 1120.1 553.8 1121.1 551.8C1122.1 549.8 1123.5 547.9 1125.0 546.4C1126.5 545.0 1128.0 543.7 1129.9 543.1C1131.8 542.4 1134.2 542.1 1136.4 542.5C1138.5 542.9 1140.9 543.8 1142.7 545.2C1144.6 546.6 1146.4 548.6 1147.3 550.8C1148.2 553.0 1148.5 555.9 1148.3 558.4" fill="none" stroke="#f5141e" stroke-width="1"/>
<line x1="1127" y1="545" x2="1131.5" y2="542" stroke="#f5141e" stroke-width="1.1"/>
<line x1="1124.5" y1="587.8" x2="1096.2" y2="591.9" stroke="#333" stroke-width="1.25"/>
<text x="1132" y="592.5" font-size="18" fill="#111" stroke="#111" stroke-width="0.3" text-anchor="middle">2</text>
<line x1="1125.3" y1="619.8" x2="1018.9" y2="563.8" stroke="#333" stroke-width="1.25"/>
<line x1="1125.3" y1="619.8" x2="1053.8" y2="595.9" stroke="#333" stroke-width="1.25"/>
<text x="1133.4" y="628.5" font-size="18" fill="#111" stroke="#111" stroke-width="0.3" text-anchor="middle">1</text>
<path d="M1151.6 624.0C1151.6 626.4 1151.2 629.3 1150.4 631.5C1149.5 633.8 1148.4 636.0 1146.7 637.7C1145.0 639.3 1142.6 640.7 1140.0 641.4C1137.4 642.0 1133.8 642.2 1131.1 641.7C1128.4 641.2 1125.8 640.0 1123.9 638.4C1122.1 636.8 1120.8 634.5 1120.1 632.1C1119.3 629.7 1119.1 626.6 1119.2 624.0C1119.2 621.4 1119.6 618.5 1120.4 616.3C1121.3 614.2 1122.4 612.4 1124.1 611.1C1125.8 609.8 1128.2 608.9 1130.8 608.6C1133.4 608.2 1137.0 608.4 1139.7 608.9C1142.4 609.4 1145.0 610.5 1146.9 611.8C1148.7 613.1 1150.0 614.9 1150.7 616.9C1151.5 619.0 1151.7 621.6 1151.6 624.0" fill="none" stroke="#f5141e" stroke-width="1"/>
<line x1="1079.2" y1="50.5" x2="1079.2" y2="70.1" stroke="#333" stroke-width="1.25"/>
<text x="1078.3" y="47.3" font-size="18" fill="#111" stroke="#111" stroke-width="0.3" text-anchor="middle">9</text>
<line x1="1040.6" y1="75.6" x2="1040.6" y2="95.1" stroke="#333" stroke-width="1.25"/>
<text x="1039.2" y="71.1" font-size="18" fill="#111" stroke="#111" stroke-width="0.3" text-anchor="middle">8</text>
<line x1="1096.5" y1="115.1" x2="1057.1" y2="137.7" stroke="#333" stroke-width="1.25"/>
<text x="1104.6" y="119.4" font-size="18" fill="#111" stroke="#111" stroke-width="0.3" text-anchor="middle">4</text>
<line x1="1156.5" y1="141.4" x2="1116.5" y2="164.7" stroke="#333" stroke-width="1.25"/>
<text x="1164.9" y="145.7" font-size="18" fill="#111" stroke="#111" stroke-width="0.3" text-anchor="middle">5</text>
<line x1="1167.8" y1="172.7" x2="1122.7" y2="199.8" stroke="#333" stroke-width="1.25"/>
<line x1="1167.8" y1="172.7" x2="1134" y2="217.8" stroke="#333" stroke-width="1.25"/>
<text x="1178.1" y="173.7" font-size="18" fill="#111" stroke="#111" stroke-width="0.3" text-anchor="middle">2</text>
<line x1="1191.3" y1="186.4" x2="1150.6" y2="210.1" stroke="#333" stroke-width="1.25"/>
<text x="1199.7" y="191.9" font-size="18" fill="#111" stroke="#111" stroke-width="0.3" text-anchor="middle">6</text>
<line x1="1209.2" y1="207.9" x2="1177.2" y2="226.3" stroke="#333" stroke-width="1.25"/>
<text x="1217.3" y="212.5" font-size="18" fill="#111" stroke="#111" stroke-width="0.3" text-anchor="middle">2</text>
<line x1="984.5" y1="167.2" x2="1016.3" y2="148.9" stroke="#333" stroke-width="1.25"/>
<text x="977.5" y="175.7" font-size="18" fill="#111" stroke="#111" stroke-width="0.3" text-anchor="middle">3</text>
<line x1="1006.3" y1="199.5" x2="1036.9" y2="182.7" stroke="#333" stroke-width="1.25"/>
<line x1="1006.3" y1="199.5" x2="1075.7" y2="196.5" stroke="#333" stroke-width="1.25"/>
<text x="999" y="208.3" font-size="18" fill="#111" stroke="#111" stroke-width="0.3" text-anchor="middle">1</text>
<path d="M1009.4 202.1C1009.4 204.5 1009.2 207.2 1008.7 209.0C1008.2 210.8 1007.7 212.0 1006.5 213.0C1005.3 214.0 1003.7 214.7 1001.5 215.1C999.3 215.5 995.4 215.6 993.2 215.4C990.9 215.1 989.1 214.6 987.8 213.6C986.5 212.6 985.8 211.4 985.3 209.5C984.9 207.6 984.9 204.7 985.0 202.1C985.0 199.6 985.2 196.5 985.7 194.3C986.2 192.1 986.7 190.4 987.9 189.1C989.1 187.8 990.7 186.9 992.9 186.5C995.1 186.1 999.0 186.2 1001.2 186.8C1003.5 187.3 1005.3 188.4 1006.6 189.7C1007.9 191.1 1008.6 192.7 1009.1 194.8C1009.5 196.8 1009.5 199.8 1009.4 202.1" fill="none" stroke="#f5141e" stroke-width="1"/>
<line x1="994" y1="186.5" x2="998" y2="185" stroke="#f5141e" stroke-width="1.1"/>
<line x1="1020.4" y1="233.8" x2="1052.9" y2="215.5" stroke="#333" stroke-width="1.25"/>
<text x="1014" y="241.8" font-size="18" fill="#111" stroke="#111" stroke-width="0.3" text-anchor="middle">3</text>
<line x1="1043" y1="262.2" x2="1073.5" y2="245.3" stroke="#333" stroke-width="1.25"/>
<line x1="1043" y1="262.2" x2="1112.5" y2="259.4" stroke="#333" stroke-width="1.25"/>
<text x="1034.6" y="270" font-size="18" fill="#111" stroke="#111" stroke-width="0.3" text-anchor="middle">1</text>
<path d="M1044.0 258.9C1044.0 261.0 1044.1 263.5 1043.8 265.1C1043.5 266.8 1043.2 267.9 1042.3 268.8C1041.4 269.8 1040.1 270.5 1038.4 271.0C1036.7 271.4 1033.7 271.6 1032.0 271.4C1030.3 271.2 1029.0 270.7 1028.1 269.8C1027.3 268.9 1027.0 267.7 1026.7 265.9C1026.4 264.1 1026.4 261.3 1026.4 258.9C1026.4 256.5 1026.3 253.5 1026.6 251.5C1026.9 249.5 1027.2 247.9 1028.1 246.8C1029.0 245.6 1030.3 244.8 1032.0 244.5C1033.7 244.2 1036.7 244.4 1038.4 244.9C1040.1 245.5 1041.4 246.5 1042.3 247.7C1043.1 249.0 1043.4 250.4 1043.7 252.3C1044.0 254.1 1044.0 256.8 1044.0 258.9" fill="none" stroke="#f5141e" stroke-width="1"/>
<line x1="1059.1" y1="296.6" x2="1090.9" y2="278.5" stroke="#333" stroke-width="1.25"/>
<text x="1052.2" y="304.9" font-size="18" fill="#111" stroke="#111" stroke-width="0.3" text-anchor="middle">3</text>
<line x1="1080.6" y1="327.2" x2="1112.3" y2="309.6" stroke="#333" stroke-width="1.25"/>
<line x1="1080.6" y1="327.2" x2="1150.4" y2="323.5" stroke="#333" stroke-width="1.25"/>
<text x="1074.8" y="334.2" font-size="18" fill="#111" stroke="#111" stroke-width="0.3" text-anchor="middle">1</text>
<path d="M1085.8 328.2C1086.0 329.8 1086.0 331.5 1085.5 332.8C1084.9 334.0 1083.7 334.9 1082.4 335.7C1081.0 336.5 1079.1 337.2 1077.2 337.7C1075.2 338.1 1072.4 338.4 1070.7 338.3C1069.1 338.2 1068.2 337.8 1067.2 337.1C1066.3 336.3 1065.6 335.3 1064.9 333.9C1064.2 332.4 1063.5 330.1 1063.2 328.2C1063.0 326.3 1063.0 324.0 1063.5 322.5C1064.1 321.0 1065.3 319.9 1066.6 319.1C1068.0 318.3 1069.9 317.8 1071.8 317.7C1073.8 317.6 1076.6 317.8 1078.3 318.3C1079.9 318.7 1080.8 319.5 1081.8 320.4C1082.7 321.3 1083.4 322.3 1084.1 323.6C1084.8 324.9 1085.5 326.7 1085.8 328.2" fill="none" stroke="#f5141e" stroke-width="1"/>
<line x1="1078.5" y1="358" x2="1110" y2="340.2" stroke="#333" stroke-width="1.25"/>
<line x1="1078.5" y1="358" x2="1148.4" y2="354" stroke="#333" stroke-width="1.25"/>
<text x="1072.9" y="364.8" font-size="18" fill="#111" stroke="#111" stroke-width="0.3" text-anchor="middle">1</text>
<path d="M1089.7 362.8C1089.9 365.3 1089.9 368.4 1089.1 370.4C1088.4 372.4 1086.9 373.9 1085.1 374.9C1083.3 376.0 1080.9 376.6 1078.3 376.8C1075.7 377.1 1071.7 376.8 1069.4 376.2C1067.0 375.7 1065.7 374.7 1064.3 373.6C1062.9 372.4 1061.9 371.1 1061.0 369.3C1060.2 367.5 1059.3 364.9 1059.1 362.8C1058.9 360.6 1058.9 358.0 1059.7 356.3C1060.4 354.5 1061.9 353.2 1063.7 352.0C1065.5 350.9 1067.9 350.0 1070.5 349.4C1073.1 348.9 1077.1 348.6 1079.4 348.8C1081.8 349.0 1083.1 349.6 1084.5 350.7C1085.9 351.7 1086.9 353.2 1087.8 355.2C1088.6 357.2 1089.5 360.2 1089.7 362.8" fill="none" stroke="#f5141e" stroke-width="1"/>
<line x1="1095" y1="399.9" x2="1126.7" y2="382.2" stroke="#333" stroke-width="1.25"/>
<text x="1087.5" y="408.8" font-size="18" fill="#111" stroke="#111" stroke-width="0.3" text-anchor="middle">2</text>
<line x1="1129.7" y1="420.1" x2="1161" y2="402.6" stroke="#333" stroke-width="1.25"/>
<line x1="1129.7" y1="420.1" x2="1166.7" y2="426.9" stroke="#333" stroke-width="1.25"/>
<text x="1121.7" y="429.7" font-size="18" fill="#111" stroke="#111" stroke-width="0.3" text-anchor="middle">2</text>
<line x1="1150.9" y1="450.2" x2="1197.3" y2="399.3" stroke="#333" stroke-width="1.25"/>
<line x1="1150.9" y1="450.2" x2="1227.3" y2="419.4" stroke="#333" stroke-width="1.25"/>
<text x="1145" y="458.3" font-size="18" fill="#111" stroke="#111" stroke-width="0.3" text-anchor="middle">1</text>
<path d="M1155.5 453.6C1155.3 455.5 1154.9 457.7 1154.2 459.1C1153.5 460.6 1152.8 461.5 1151.5 462.3C1150.2 463.2 1148.6 463.8 1146.2 464.2C1143.8 464.5 1139.6 464.7 1137.0 464.6C1134.3 464.4 1132.1 464.0 1130.5 463.2C1128.9 462.4 1127.8 461.4 1127.3 459.8C1126.7 458.2 1126.7 455.8 1126.9 453.6C1127.1 451.5 1127.5 448.8 1128.2 447.0C1128.9 445.2 1129.6 443.8 1130.9 442.7C1132.2 441.7 1133.8 440.9 1136.2 440.7C1138.6 440.4 1142.8 440.6 1145.4 441.1C1148.1 441.6 1150.3 442.5 1151.9 443.6C1153.5 444.7 1154.6 446.1 1155.1 447.7C1155.7 449.4 1155.7 451.7 1155.5 453.6" fill="none" stroke="#f5141e" stroke-width="1"/>
<line x1="1165.5" y1="475.2" x2="1195.3" y2="440.2" stroke="#333" stroke-width="1.25"/>
<line x1="1165.5" y1="475.2" x2="1224.8" y2="454.4" stroke="#333" stroke-width="1.25"/>
<text x="1158.8" y="485.3" font-size="18" fill="#111" stroke="#111" stroke-width="0.3" text-anchor="middle">1</text>
<path d="M1171.6 480.6C1171.8 482.7 1171.8 485.3 1171.1 487.2C1170.4 489.0 1169.2 490.4 1167.4 491.5C1165.6 492.6 1163.1 493.3 1160.2 493.7C1157.2 494.0 1152.4 493.8 1149.6 493.3C1146.8 492.9 1144.9 491.9 1143.4 490.8C1141.8 489.7 1140.9 488.3 1140.1 486.6C1139.4 484.9 1138.9 482.5 1138.8 480.6C1138.6 478.7 1138.6 476.5 1139.3 475.1C1140.0 473.6 1141.2 472.7 1143.0 471.9C1144.8 471.1 1147.3 470.5 1150.2 470.1C1153.2 469.8 1158.0 469.7 1160.8 469.8C1163.6 470.0 1165.5 470.4 1167.0 471.2C1168.6 472.0 1169.5 472.9 1170.3 474.5C1171.0 476.1 1171.5 478.5 1171.6 480.6" fill="none" stroke="#f5141e" stroke-width="1"/>
<line x1="1202.8" y1="472.7" x2="1202.8" y2="496.5" stroke="#333" stroke-width="1.25"/>
<text x="1201.5" y="512.6" font-size="18" fill="#111" stroke="#111" stroke-width="0.3" text-anchor="middle">2</text>
<line x1="1237.3" y1="492.2" x2="1237.3" y2="515.3" stroke="#333" stroke-width="1.25"/>
<text x="1236.6" y="532" font-size="18" fill="#111" stroke="#111" stroke-width="0.3" text-anchor="middle">2</text>
<line x1="1276" y1="513.5" x2="1276" y2="536.8" stroke="#333" stroke-width="1.25"/>
<text x="1276.2" y="554.8" font-size="18" fill="#111" stroke="#111" stroke-width="0.3" text-anchor="middle">1</text>
<path d="M1288.6 549.0C1288.4 551.1 1287.4 553.6 1286.2 555.6C1285.0 557.5 1283.3 559.5 1281.6 560.9C1279.9 562.3 1278.0 563.4 1275.8 564.0C1273.6 564.5 1270.9 564.5 1268.4 564.0C1266.0 563.5 1263.4 562.4 1261.3 561.0C1259.2 559.6 1257.2 557.6 1256.1 555.6C1255.0 553.6 1254.6 551.1 1254.8 549.0C1255.0 546.9 1256.0 544.6 1257.2 542.9C1258.4 541.2 1260.1 539.8 1261.8 538.7C1263.5 537.7 1265.4 537.0 1267.6 536.6C1269.8 536.3 1272.5 536.3 1275.0 536.7C1277.4 537.1 1280.0 537.8 1282.1 538.8C1284.2 539.9 1286.2 541.3 1287.3 543.0C1288.4 544.7 1288.8 546.9 1288.6 549.0" fill="none" stroke="#f5141e" stroke-width="1"/>
<line x1="1234.8" y1="245.6" x2="1202.3" y2="263.4" stroke="#333" stroke-width="1.25"/>
<text x="1239.2" y="250.1" font-size="18" fill="#111" stroke="#111" stroke-width="0.3" text-anchor="middle">3</text>
<line x1="1244.3" y1="275.6" x2="1176.7" y2="282.7" stroke="#333" stroke-width="1.25"/>
<line x1="1244.3" y1="275.6" x2="1213.5" y2="293.2" stroke="#333" stroke-width="1.25"/>
<text x="1253.8" y="279.4" font-size="18" fill="#111" stroke="#111" stroke-width="0.3" text-anchor="middle">1</text>
<path d="M1265.4 277.5C1265.4 279.8 1265.2 282.4 1264.8 284.1C1264.4 285.9 1264.0 287.0 1263.0 287.9C1262.0 288.9 1260.6 289.6 1258.7 289.9C1256.7 290.3 1253.3 290.4 1251.2 290.1C1249.2 289.9 1247.6 289.3 1246.4 288.4C1245.3 287.5 1244.8 286.3 1244.4 284.5C1244.0 282.7 1244.1 279.9 1244.2 277.5C1244.2 275.0 1244.4 272.0 1244.8 269.9C1245.2 267.8 1245.6 266.2 1246.6 264.9C1247.6 263.6 1249.0 262.7 1250.9 262.3C1252.9 261.9 1256.3 262.0 1258.4 262.5C1260.4 263.0 1262.0 264.1 1263.2 265.4C1264.3 266.7 1264.8 268.3 1265.2 270.3C1265.6 272.3 1265.5 275.2 1265.4 277.5" fill="none" stroke="#f5141e" stroke-width="1"/>
<line x1="1268.6" y1="304.4" x2="1236.8" y2="322.2" stroke="#333" stroke-width="1.25"/>
<text x="1273.8" y="309.4" font-size="18" fill="#111" stroke="#111" stroke-width="0.3" text-anchor="middle">3</text>
<line x1="1279.9" y1="330.2" x2="1214.3" y2="337.7" stroke="#333" stroke-width="1.25"/>
<text x="1288.9" y="335.7" font-size="18" fill="#111" stroke="#111" stroke-width="0.3" text-anchor="middle">1</text>
<path d="M1304.7 330.9C1304.5 333.4 1304.0 336.7 1303.4 338.7C1302.8 340.6 1302.3 341.7 1301.2 342.7C1300.1 343.6 1299.3 344.1 1297.0 344.3C1294.6 344.4 1289.8 344.2 1287.3 343.7C1284.7 343.2 1282.9 342.4 1281.4 341.4C1280.0 340.4 1279.1 339.4 1278.6 337.6C1278.1 335.9 1278.3 333.1 1278.5 330.9C1278.7 328.6 1279.2 325.9 1279.8 324.3C1280.4 322.6 1280.9 321.8 1282.0 320.9C1283.1 320.0 1283.9 319.4 1286.2 318.9C1288.6 318.5 1293.4 318.2 1295.9 318.3C1298.5 318.5 1300.3 318.8 1301.8 319.6C1303.2 320.5 1304.1 321.4 1304.6 323.2C1305.1 325.1 1304.9 328.3 1304.7 330.9" fill="none" stroke="#f5141e" stroke-width="1"/>
<line x1="1319.4" y1="375.8" x2="1250.6" y2="363.3" stroke="#333" stroke-width="1.25"/>
<line x1="1319.4" y1="375.8" x2="1290.4" y2="384.6" stroke="#333" stroke-width="1.25"/>
<text x="1330" y="380.9" font-size="18" fill="#111" stroke="#111" stroke-width="0.3" text-anchor="middle">1</text>
<path d="M1341.9 376.5C1341.9 379.3 1341.1 382.4 1340.2 384.5C1339.2 386.6 1337.6 388.0 1336.1 389.0C1334.6 390.1 1333.1 390.7 1331.0 390.9C1329.0 391.2 1325.9 390.9 1323.9 390.5C1321.8 390.0 1320.2 389.1 1318.6 388.0C1317.1 386.8 1315.5 385.6 1314.5 383.7C1313.6 381.8 1312.9 379.0 1312.9 376.5C1312.9 374.1 1313.7 371.2 1314.6 369.1C1315.6 367.0 1317.2 365.4 1318.7 364.0C1320.2 362.7 1321.7 361.5 1323.8 361.0C1325.8 360.4 1328.9 360.1 1330.9 360.5C1333.0 360.8 1334.6 361.7 1336.2 363.0C1337.7 364.3 1339.3 366.0 1340.3 368.2C1341.2 370.5 1341.9 373.8 1341.9 376.5" fill="none" stroke="#f5141e" stroke-width="1"/>
<line x1="1322.9" y1="426.9" x2="1293.6" y2="431.4" stroke="#333" stroke-width="1.25"/>
<text x="1330.7" y="431.1" font-size="18" fill="#111" stroke="#111" stroke-width="0.3" text-anchor="middle">1</text>
<path d="M1344.7 426.7C1344.9 429.3 1345.0 432.3 1344.5 434.3C1343.9 436.2 1342.8 437.5 1341.2 438.5C1339.7 439.5 1337.6 440.1 1335.2 440.3C1332.8 440.5 1329.1 440.3 1327.0 439.8C1324.9 439.3 1323.7 438.5 1322.5 437.4C1321.3 436.3 1320.7 435.2 1320.0 433.4C1319.3 431.6 1318.7 429.0 1318.5 426.7C1318.3 424.4 1318.2 421.7 1318.7 419.7C1319.3 417.8 1320.4 416.3 1322.0 415.0C1323.5 413.7 1325.6 412.7 1328.0 412.1C1330.4 411.5 1334.1 411.3 1336.2 411.6C1338.3 411.9 1339.5 412.7 1340.7 413.9C1341.9 415.1 1342.5 416.7 1343.2 418.8C1343.9 421.0 1344.5 424.1 1344.7 426.7" fill="none" stroke="#f5141e" stroke-width="1"/>
<line x1="1322.4" y1="469.4" x2="1293.6" y2="474.5" stroke="#333" stroke-width="1.25"/>
<text x="1329.7" y="474.4" font-size="18" fill="#111" stroke="#111" stroke-width="0.3" text-anchor="middle">2</text>
<circle cx="46.6" cy="20.4" r="0.55" fill="#999"/>
</svg>
</body></html>
